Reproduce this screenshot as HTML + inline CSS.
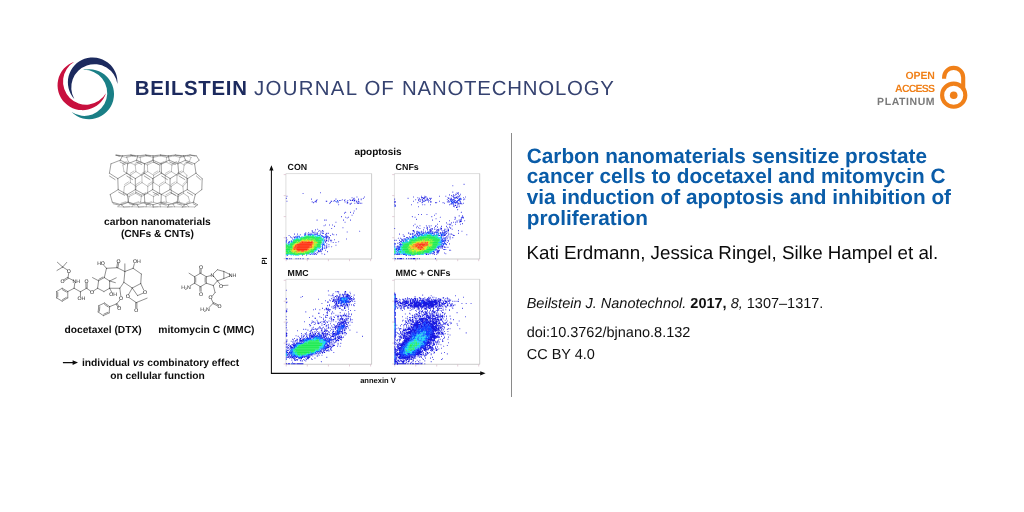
<!DOCTYPE html>
<html><head><meta charset="utf-8">
<style>
html,body{margin:0;padding:0;background:#fff;}
body{width:1024px;height:512px;position:relative;overflow:hidden;font-family:"Liberation Sans",sans-serif;text-rendering:geometricPrecision;}
.abs{position:absolute;white-space:nowrap;}
.jt{top:75.2px;font-size:20.4px;line-height:28px;color:#1c2a5e;}
.jl{color:#354270;}
.oa{right:88.8px;text-align:right;font-size:10.5px;line-height:13.2px;font-weight:bold;color:#f08019;}
#divider{left:511px;top:133px;width:1.3px;height:264px;background:#8a8a8a;}
#title{left:526.8px;top:146.6px;font-size:20.75px;line-height:20.75px;font-weight:bold;color:#0a5ca8;}
#auth{left:526.6px;top:241.55px;font-size:18.75px;line-height:22px;color:#0a0a0a;}
#cit{left:526.7px;top:294.8px;font-size:14.5px;line-height:18px;color:#111;}
#doi{left:526.7px;top:324px;font-size:14.5px;line-height:18px;color:#111;}
#cc{left:526.7px;top:345.5px;font-size:14.5px;line-height:18px;color:#111;}
#gfx{left:0;top:0;}
svg text{font-family:"Liberation Sans",sans-serif;}
</style></head><body>
<svg class="abs" id="gfx" width="1024" height="512" viewBox="0 0 1024 512">
<defs><clipPath id="figclip"><rect x="40" y="130" width="471" height="253.5"/></clipPath></defs>
<path d="M74.30 98.90A24.80 24.80 0 1 1 117.40 84.00A23.20 23.20 0 1 0 74.30 98.90Z" fill="#1c2a5e"/>
<path d="M74.30 61.70A24.90 24.90 0 1 0 106.00 93.30A23.10 23.10 0 1 1 74.30 61.70Z" fill="#c8103e"/>
<path d="M83.10 69.90A25.00 25.00 0 1 1 71.60 112.10A23.00 23.00 0 1 0 83.10 69.90Z" fill="#1a7f86"/>
<g fill="none" stroke="#f08019" stroke-width="4.1">
<circle cx="953.7" cy="95.2" r="11.6"/>
<path d="M944.1 78.8V77.4A9.55 9.55 0 0 1 963.2 77.4V89"/>
</g><circle cx="953.7" cy="95.2" r="3.8" fill="#f08019"/>
<g clip-path="url(#figclip)">
<g fill="none" stroke-linecap="round"><path d="M123.8 207.0L132.0 206.8M124.6 207.0L129.9 206.7M123.8 207.0L117.8 206.8M138.5 207.0L146.1 206.8M139.0 207.0L144.0 206.7M138.5 207.0L132.0 206.8M153.1 207.0L160.3 206.8M153.4 207.0L158.1 206.7M153.1 207.0L146.1 206.8M167.8 207.0L174.5 206.8M167.8 207.0L172.2 206.7M167.8 207.0L160.3 206.8M182.5 207.0L188.7 206.8M182.2 207.0L186.2 206.7M182.5 207.0L174.5 206.8M194.8 207.0L188.7 206.8M117.8 206.8L120.3 204.3M120.3 204.3L127.8 202.1M121.0 203.2L125.9 201.7M132.0 206.8L133.5 204.3M133.5 204.3L140.6 202.1M134.0 203.2L138.7 201.7M133.5 204.3L127.8 202.1M146.1 206.8L146.8 204.3M146.8 204.3L153.4 202.1M147.1 203.2L151.5 201.7M146.8 204.3L140.6 202.1M160.3 206.8L160.0 204.3M160.0 204.3L166.3 202.1M160.1 203.2L164.2 201.7M160.0 204.3L153.4 202.1M174.5 206.8L173.2 204.3M173.2 204.3L179.1 202.1M173.1 203.2L177.0 201.7M173.2 204.3L166.3 202.1M188.7 206.8L186.5 204.3M186.5 204.3L189.9 202.1M186.2 203.2L188.4 201.7M186.5 204.3L179.1 202.1M127.8 202.1L129.1 196.6M129.1 196.6L135.6 193.3M129.6 194.9L133.8 192.7M129.1 196.6L123.6 193.3M140.6 202.1L141.3 196.6M141.3 196.6L147.6 193.3M141.6 194.9L145.7 192.7M141.3 196.6L135.6 193.3M153.4 202.1L153.5 196.6M153.5 196.6L159.6 193.3M153.7 194.9L157.7 192.7M153.5 196.6L147.6 193.3M166.3 202.1L165.8 196.6M165.8 196.6L171.5 193.3M165.8 194.9L169.6 192.7M165.8 196.6L159.6 193.3M179.1 202.1L178.0 196.6M178.0 196.6L183.5 193.3M177.9 194.9L181.6 192.7M178.0 196.6L171.5 193.3M189.9 202.1L188.2 196.6M188.2 196.6L183.5 193.3M123.6 193.3L124.4 186.3M124.4 186.3L130.4 182.6M124.6 184.4L128.5 181.9M135.6 193.3L136.1 186.3M136.1 186.3L142.0 182.6M136.3 184.4L140.2 181.9M136.1 186.3L130.4 182.6M147.6 193.3L147.8 186.3M147.8 186.3L153.6 182.6M148.0 184.4L151.8 181.9M147.8 186.3L142.0 182.6M159.6 193.3L159.5 186.3M159.5 186.3L165.3 182.6M159.6 184.4L163.5 181.9M159.5 186.3L153.6 182.6M171.5 193.3L171.2 186.3M171.2 186.3L176.9 182.6M171.3 184.4L175.1 181.9M171.2 186.3L165.3 182.6M183.5 193.3L182.9 186.3M182.9 186.3L186.6 182.6M182.9 184.4L185.5 181.9M182.9 186.3L176.9 182.6M130.4 182.6L130.2 175.2M130.2 175.2L135.9 171.6M130.3 173.3L134.0 171.0M130.2 175.2L124.0 171.6M142.0 182.6L141.9 175.2M141.9 175.2L147.7 171.6M142.0 173.3L145.8 171.0M141.9 175.2L135.9 171.6M153.6 182.6L153.6 175.2M153.6 175.2L159.5 171.6M153.8 173.3L157.7 171.0M153.6 175.2L147.7 171.6M165.3 182.6L165.3 175.2M165.3 175.2L171.3 171.6M165.5 173.3L169.5 171.0M165.3 175.2L159.5 171.6M176.9 182.6L177.0 175.2M177.0 175.2L183.2 171.6M177.3 173.3L181.4 171.0M177.0 175.2L171.3 171.6M186.6 182.6L186.8 175.2M186.8 175.2L183.2 171.6M124.0 171.6L122.9 165.0M122.9 165.0L128.4 162.0M122.7 163.4L126.3 161.6M135.9 171.6L135.2 165.0M135.2 165.0L140.9 162.0M135.1 163.4L138.9 161.6M135.2 165.0L128.4 162.0M147.7 171.6L147.4 165.0M147.4 165.0L153.5 162.0M147.5 163.4L151.5 161.6M147.4 165.0L140.9 162.0M159.5 171.6L159.7 165.0M159.7 165.0L166.0 162.0M159.9 163.4L164.1 161.6M159.7 165.0L153.5 162.0M171.3 171.6L171.9 165.0M171.9 165.0L178.6 162.0M172.3 163.4L176.7 161.6M171.9 165.0L166.0 162.0M183.2 171.6L184.2 165.0M184.2 165.0L189.1 162.0M184.7 163.4L188.0 161.6M184.2 165.0L178.6 162.0M128.4 162.0L126.8 157.4M126.8 157.4L132.7 155.9M126.5 156.6L130.4 155.7M126.8 157.4L118.9 155.9M140.9 162.0L140.1 157.4M140.1 157.4L146.4 155.9M140.0 156.6L144.2 155.7M140.1 157.4L132.7 155.9M153.5 162.0L153.4 157.4M153.4 157.4L160.2 155.9M153.5 156.6L158.0 155.7M153.4 157.4L146.4 155.9M166.0 162.0L166.7 157.4M166.7 157.4L173.9 155.9M167.1 156.6L171.9 155.7M166.7 157.4L160.2 155.9M178.6 162.0L180.0 157.4M180.0 157.4L187.7 155.9M180.6 156.6L185.7 155.7M180.0 157.4L173.9 155.9M189.1 162.0L191.1 157.4M191.1 157.4L187.7 155.9M118.9 155.9L116.2 155.0M132.7 155.9L131.0 155.0M146.4 155.9L145.8 155.0M160.2 155.9L160.5 155.0M173.9 155.9L175.3 155.0M187.7 155.9L190.0 155.0" stroke="#777" stroke-width="0.45"/><path d="M122.5 155.8L120.3 160.2M120.3 160.2L127.7 163.8M120.0 162.0L125.0 164.5M120.3 160.2L111.0 163.8M137.8 155.8L136.6 160.2M136.6 160.2L144.5 163.8M136.6 162.0L141.8 164.5M136.6 160.2L127.7 163.8M153.0 155.8L152.9 160.2M152.9 160.2L161.2 163.8M153.1 162.0L158.6 164.5M152.9 160.2L144.5 163.8M168.3 155.8L169.2 160.2M169.2 160.2L177.9 163.8M169.6 162.0L175.4 164.5M169.2 160.2L161.2 163.8M183.6 155.8L185.5 160.2M185.5 160.2L194.6 163.8M186.1 162.0L192.2 164.5M185.5 160.2L177.9 163.8M196.4 155.8L199.1 160.2M199.1 160.2L194.6 163.8M111.0 163.8L109.4 173.2M109.4 173.2L117.8 178.6M109.5 176.0L115.1 179.6M127.7 163.8L126.7 173.2M126.7 173.2L135.3 178.6M126.9 176.0L132.5 179.6M126.7 173.2L117.8 178.6M144.5 163.8L144.1 173.2M144.1 173.2L152.7 178.6M144.3 176.0L150.0 179.6M144.1 173.2L135.3 178.6M161.2 163.8L161.4 173.2M161.4 173.2L170.1 178.6M161.7 176.0L167.4 179.6M161.4 173.2L152.7 178.6M177.9 163.8L178.7 173.2M178.7 173.2L187.6 178.6M179.0 176.0L184.9 179.6M178.7 173.2L170.1 178.6M194.6 163.8L196.0 173.2M196.0 173.2L202.2 178.6M196.4 176.0L200.4 179.6M196.0 173.2L187.6 178.6M117.8 178.6L118.2 189.6M118.2 189.6L127.2 194.5M118.7 192.2L124.7 195.3M118.2 189.6L110.2 194.5M135.3 178.6L135.4 189.6M135.4 189.6L144.3 194.5M135.8 192.2L141.6 195.3M135.4 189.6L127.2 194.5M152.7 178.6L152.7 189.6M152.7 189.6L161.3 194.5M153.0 192.2L158.6 195.3M152.7 189.6L144.3 194.5M170.1 178.6L170.0 189.6M170.0 189.6L178.3 194.5M170.2 192.2L175.6 195.3M170.0 189.6L161.3 194.5M187.6 178.6L187.3 189.6M187.3 189.6L195.3 194.5M187.3 192.2L192.6 195.3M187.3 189.6L178.3 194.5M202.2 178.6L201.8 189.6M201.8 189.6L195.3 194.5M110.2 194.5L112.3 202.2M112.3 202.2L121.5 204.8M113.2 203.7L119.3 205.1M127.2 194.5L128.6 202.2M128.6 202.2L137.2 204.8M129.2 203.7L134.9 205.1M128.6 202.2L121.5 204.8M144.3 194.5L144.8 202.2M144.8 202.2L153.0 204.8M145.2 203.7L150.6 205.1M144.8 202.2L137.2 204.8M161.3 194.5L161.0 202.2M161.0 202.2L168.7 204.8M161.1 203.7L166.2 205.1M161.0 202.2L153.0 204.8M178.3 194.5L177.2 202.2M177.2 202.2L184.4 204.8M177.1 203.7L181.8 205.1M177.2 202.2L168.7 204.8M195.3 194.5L193.5 202.2M193.5 202.2L197.6 204.8M193.1 203.7L195.8 205.1M193.5 202.2L184.4 204.8M121.5 204.8L123.8 207.0M137.2 204.8L138.5 207.0M153.0 204.8L153.1 207.0M168.7 204.8L167.8 207.0M184.4 204.8L182.5 207.0M197.6 204.8L194.8 207.0M116.2 155.0L122.5 155.8M115.7 155.3L119.9 156.1M131.0 155.0L137.8 155.8M130.7 155.3L135.3 156.1M131.0 155.0L122.5 155.8M145.8 155.0L153.0 155.8M145.8 155.3L150.6 156.1M145.8 155.0L137.8 155.8M160.5 155.0L168.3 155.8M160.8 155.3L166.0 156.1M160.5 155.0L153.0 155.8M175.3 155.0L183.6 155.8M175.9 155.3L181.4 156.1M175.3 155.0L168.3 155.8M190.0 155.0L196.4 155.8M190.9 155.3L195.1 156.1M190.0 155.0L183.6 155.8" stroke="#555" stroke-width="0.55"/></g>
<path d="M62.69 267.06L57.36 262.23M62.69 267.06L66.75 262.36M62.69 267.06L56.98 270.48M62.69 267.06L67.26 269.85M68.78 272.77L68.02 277.84M67.70 277.33L64.02 279.62M68.34 278.35L64.66 280.64M68.02 277.84L73.22 280.38M74.75 283.17L74.11 288.25M74.11 288.25L67.77 291.55M67.77 291.55L67.77 297.89M67.77 297.89L62.18 301.19M66.34 297.40L62.44 299.71M62.18 301.19L56.60 297.89M56.60 297.89L56.60 291.55M57.75 296.94L57.75 292.50M56.60 291.55L62.18 288.25M62.18 288.25L67.77 291.55M62.44 289.73L66.34 292.04M74.11 288.25L80.46 291.80M80.46 291.80L80.46 295.86M80.46 291.80L86.55 288.25M87.15 288.25L87.15 283.17M85.95 288.25L85.95 283.17M86.55 288.25L90.36 290.91M93.53 290.91L97.59 288.25M97.59 288.25L98.60 280.76M98.60 280.76L104.31 277.59M98.90 279.28L102.90 277.06M104.31 277.59L109.64 281.02M109.64 281.02L109.64 288.25M109.64 288.25L103.93 291.55M103.93 291.55L97.59 288.25M98.60 280.76L92.51 277.59M109.64 281.02L116.24 277.84M109.64 281.02L115.36 282.66M109.64 288.25L111.68 292.06M104.31 277.59L106.47 268.32M106.47 268.32L103.93 265.41M106.47 268.32L117.26 267.69M117.85 267.80L118.74 262.98M116.67 267.58L117.56 262.76M117.26 267.69L124.87 271.50M124.87 271.50L124.87 263.88M124.87 271.50L133.12 268.32M133.12 268.32L134.39 263.63M133.12 268.32L141.37 274.04M141.37 274.04L140.74 283.55M140.74 283.55L132.23 287.99M132.23 287.99L123.86 282.28M123.86 282.28L124.87 271.50M123.86 282.28L119.80 288.25M119.80 288.25L109.64 288.25M119.80 288.25L120.81 295.86M120.05 299.92L116.62 303.86M116.11 304.17L117.89 307.09M117.14 303.55L118.91 306.46M116.62 303.86L109.68 306.63M109.68 306.63L109.13 312.95M109.13 312.95L103.38 315.64M107.78 312.31L103.76 314.19M103.38 315.64L98.18 312.00M98.18 312.00L98.74 305.68M99.41 311.15L99.80 306.72M98.74 305.68L104.49 302.99M104.49 302.99L109.68 306.63M104.61 304.48L108.25 307.03M132.23 287.99L128.68 294.34M129.31 297.77L136.29 302.59M135.69 302.59L135.69 307.66M136.89 302.59L136.89 307.66M136.29 302.59L147.08 298.15M140.74 283.55L143.65 289.90M143.27 293.07L137.56 295.61M137.56 295.61L132.23 287.99" fill="none" stroke="#333" stroke-width="0.55" stroke-linecap="round"/><text x="68.78" y="272.73" font-size="5.2" text-anchor="middle" fill="#222">O</text><text x="62.44" y="283.27" font-size="5.2" text-anchor="middle" fill="#222">O</text><text x="76.27" y="283.14" font-size="5.2" text-anchor="middle" fill="#222">NH</text><text x="81.47" y="300.15" font-size="5.2" text-anchor="middle" fill="#222">OH</text><text x="86.55" y="283.27" font-size="5.2" text-anchor="middle" fill="#222">O</text><text x="92.01" y="293.67" font-size="5.2" text-anchor="middle" fill="#222">O</text><text x="113.20" y="296.09" font-size="5.2" text-anchor="middle" fill="#222">OH</text><text x="101.02" y="265.25" font-size="5.2" text-anchor="middle" fill="#222">HO</text><text x="118.53" y="262.71" font-size="5.2" text-anchor="middle" fill="#222">O</text><text x="136.80" y="263.34" font-size="5.2" text-anchor="middle" fill="#222">OH</text><text x="121.07" y="300.02" font-size="5.2" text-anchor="middle" fill="#222">O</text><text x="119.29" y="310.30" font-size="5.2" text-anchor="middle" fill="#222">O</text><text x="127.66" y="298.12" font-size="5.2" text-anchor="middle" fill="#222">O</text><text x="136.29" y="311.57" font-size="5.2" text-anchor="middle" fill="#222">O</text><text x="144.92" y="293.67" font-size="5.2" text-anchor="middle" fill="#222">O</text><path d="M200.43 273.23L206.29 276.75M206.29 276.75L206.29 283.20M205.14 277.72L205.14 282.23M206.29 283.20L200.43 286.71M200.43 286.71L194.57 283.20M194.57 283.20L194.57 276.75M195.72 282.23L195.72 277.72M194.57 276.75L200.43 273.23M201.03 273.25L201.15 269.27M199.83 273.22L199.95 269.23M199.83 286.73L199.95 291.30M201.03 286.70L201.15 291.27M194.57 276.75L189.06 273.23M194.57 283.20L190.70 285.42M206.29 276.75L210.74 275.58M213.67 276.28L217.42 280.85M217.42 280.85L213.32 285.54M213.32 285.54L206.29 283.20M213.56 273.47L217.42 269.72M217.42 269.72L223.87 271.48M223.87 271.48L223.87 278.51M223.87 278.51L217.42 280.85M223.87 271.48L230.08 274.52M223.87 278.51L230.08 275.93M217.42 280.85L219.89 284.02M222.81 285.54L227.97 285.19M213.32 285.54L215.08 292.57M215.08 292.57L212.27 296.09M211.33 299.02L213.32 303.12M213.06 303.66L217.40 305.77M213.58 302.58L217.92 304.69M213.32 303.12L209.34 307.22" fill="none" stroke="#333" stroke-width="0.55" stroke-linecap="round"/><text x="201.02" y="268.78" font-size="5.2" text-anchor="middle" fill="#222">O</text><text x="201.02" y="295.73" font-size="5.2" text-anchor="middle" fill="#222">O</text><text x="186.02" y="288.58" font-size="5.2" text-anchor="middle" fill="#222">H<tspan font-size="3.6" dy="1">2</tspan><tspan dy="-1">N</tspan></text><text x="212.38" y="276.75" font-size="5.2" text-anchor="middle" fill="#222">N</text><text x="232.42" y="277.22" font-size="5.2" text-anchor="middle" fill="#222">NH</text><text x="221.06" y="287.53" font-size="5.2" text-anchor="middle" fill="#222">O</text><text x="210.63" y="299.25" font-size="5.2" text-anchor="middle" fill="#222">O</text><text x="219.42" y="308.04" font-size="5.2" text-anchor="middle" fill="#222">O</text><text x="205.12" y="310.50" font-size="5.2" text-anchor="middle" fill="#222">H<tspan font-size="3.6" dy="1">2</tspan><tspan dy="-1">N</tspan></text>
<path d="M285.9 259.0V173.6H371.6" fill="none" stroke="#c8c8c8" stroke-width="0.6"/><path d="M371.6 173.6V259.0H285.9" fill="none" stroke="#a2a2a2" stroke-width="0.55"/>
<path d="M286.2 259.0v2.2M285.9 258.7h-2.2M307.3 259.0v2.2M285.9 237.7h-2.2M328.4 259.0v2.2M285.9 216.6h-2.2M349.5 259.0v2.2M285.9 195.6h-2.2M370.6 259.0v2.2M285.9 174.6h-2.2" stroke="#d8b8c8" stroke-width="0.7" fill="none"/>
<path d="M394.4 259.0V173.6H479.7" fill="none" stroke="#c8c8c8" stroke-width="0.6"/><path d="M479.7 173.6V259.0H394.4" fill="none" stroke="#a2a2a2" stroke-width="0.55"/>
<path d="M394.7 259.0v2.2M394.4 258.7h-2.2M415.7 259.0v2.2M394.4 237.7h-2.2M436.7 259.0v2.2M394.4 216.6h-2.2M457.7 259.0v2.2M394.4 195.6h-2.2M478.7 259.0v2.2M394.4 174.6h-2.2" stroke="#d8b8c8" stroke-width="0.7" fill="none"/>
<path d="M285.9 364.3V279.3H371.6" fill="none" stroke="#c8c8c8" stroke-width="0.6"/><path d="M371.6 279.3V364.3H285.9" fill="none" stroke="#a2a2a2" stroke-width="0.55"/>
<path d="M286.2 364.3v2.2M285.9 364.0h-2.2M307.3 364.3v2.2M285.9 343.1h-2.2M328.4 364.3v2.2M285.9 322.1h-2.2M349.5 364.3v2.2M285.9 301.2h-2.2M370.6 364.3v2.2M285.9 280.3h-2.2" stroke="#d8b8c8" stroke-width="0.7" fill="none"/>
<path d="M394.4 364.3V279.3H479.7" fill="none" stroke="#c8c8c8" stroke-width="0.6"/><path d="M479.7 279.3V364.3H394.4" fill="none" stroke="#a2a2a2" stroke-width="0.55"/>
<path d="M394.7 364.3v2.2M394.4 364.0h-2.2M415.7 364.3v2.2M394.4 343.1h-2.2M436.7 364.3v2.2M394.4 322.1h-2.2M457.7 364.3v2.2M394.4 301.2h-2.2M478.7 364.3v2.2M394.4 280.3h-2.2" stroke="#d8b8c8" stroke-width="0.7" fill="none"/>
<path d="M320.2 192.8h0.7M302.7 193.5h0.7M286.6 196.3h0.7M356.6 197.0h0.7M364.3 197.0h0.7M351.7 197.7h0.7M285.9 198.4h0.7M353.8 198.4h0.7M362.9 198.4h0.7M311.1 199.1h0.7M335.6 199.1h0.7M353.1 199.1h0.7M358.0 199.1h0.7M360.8 199.1h0.7M316.7 199.8h0.7M341.9 199.8h0.7M344.7 199.8h0.7M349.6 199.8h0.7M352.4 199.8h0.7M354.5 199.8h0.7M358.0 199.8h0.7M360.8 199.8h0.7M316.0 200.5h0.7M334.2 200.5h0.7M337.0 200.5h0.7M339.1 200.5h0.7M340.5 200.5h0.7M344.0 200.5h0.7M347.5 200.5h0.7M350.3 200.5h0.7M351.7 200.5h1.4M353.8 200.5h1.4M286.6 201.2h0.7M315.3 201.2h0.7M325.8 201.2h1.4M330.7 201.2h1.4M333.5 201.2h0.7M334.9 201.2h0.7M337.7 201.2h0.7M353.8 201.2h0.7M355.9 201.2h1.4M358.0 201.2h0.7M311.8 201.9h0.7M314.6 201.9h0.7M316.0 201.9h0.7M337.7 201.9h0.7M344.7 201.9h0.7M346.8 201.9h0.7M358.7 201.9h0.7M313.2 202.6h0.7M330.0 202.6h0.7M337.7 202.6h0.7M347.5 202.6h0.7M356.6 202.6h0.7M329.3 203.3h0.7M346.8 203.3h0.7M351.0 203.3h0.7M354.5 203.3h0.7M357.3 203.3h2.1M360.1 203.3h0.7M361.5 203.3h0.7M349.6 204.0h1.4M338.4 204.7h0.7M355.9 208.9h0.7M353.8 211.0h0.7M345.4 212.4h0.7M350.3 212.4h0.7M344.0 213.1h0.7M353.1 213.1h0.7M351.7 215.2h0.7M341.2 216.6h0.7M345.4 217.3h0.7M348.2 217.3h0.7M346.8 218.0h0.7M316.7 220.1h0.7M324.4 220.1h0.7M325.8 220.1h0.7M343.3 220.1h0.7M350.3 220.1h0.7M335.6 222.2h0.7M344.7 222.2h0.7M325.1 225.0h0.7M329.3 225.0h0.7M332.1 225.0h0.7M323.7 225.7h0.7M334.2 226.4h0.7M342.6 227.8h0.7M331.4 228.5h0.7M317.4 229.2h0.7M315.3 229.9h0.7M311.8 230.6h0.7M319.5 230.6h0.7M322.3 230.6h0.7M318.1 231.3h0.7M321.6 231.3h0.7M323.0 231.3h0.7M359.4 231.3h0.7M311.8 232.0h1.4M314.6 232.0h0.7M320.2 232.0h0.7M346.8 232.0h0.7M305.5 232.7h0.7M308.3 232.7h0.7M313.2 232.7h0.7M314.6 232.7h0.7M316.7 232.7h0.7M321.6 232.7h0.7M309.7 233.4h0.7M317.4 233.4h0.7M323.0 233.4h0.7M326.5 233.4h0.7M327.9 233.4h0.7M294.3 234.1h0.7M297.1 234.1h0.7M304.8 234.1h1.4M307.6 234.1h0.7M313.9 234.1h0.7M316.0 234.1h0.7M320.2 234.1h0.7M325.8 234.1h0.7M332.1 234.1h0.7M299.9 234.8h0.7M308.3 234.8h0.7M325.1 234.8h0.7M333.5 234.8h0.7M336.3 234.8h0.7M288.7 235.5h0.7M321.6 235.5h0.7M326.5 235.5h0.7M330.0 235.5h0.7M296.4 236.2h0.7M325.8 236.2h0.7M290.1 236.9h0.7M293.6 236.9h0.7M295.0 236.9h0.7M326.5 236.9h2.1M285.9 237.6h0.7M291.5 237.6h0.7M294.3 237.6h0.7M325.8 237.6h0.7M329.3 237.6h0.7M285.9 238.3h0.7M326.5 238.3h0.7M328.6 238.3h0.7M292.2 239.0h0.7M325.8 239.0h0.7M328.6 239.0h0.7M346.1 239.0h0.7M286.6 239.7h0.7M324.4 239.7h0.7M328.6 239.7h0.7M334.2 239.7h0.7M285.9 240.4h0.7M324.4 240.4h0.7M325.8 240.4h1.4M330.0 240.4h0.7M331.4 240.4h0.7M285.9 241.1h0.7M325.8 241.1h0.7M327.9 241.1h0.7M325.1 241.8h0.7M330.7 241.8h0.7M338.4 241.8h0.7M288.0 242.5h0.7M325.1 242.5h0.7M332.8 242.5h0.7M335.6 242.5h0.7M326.5 243.9h0.7M328.6 244.6h0.7M324.4 245.3h0.7M335.6 245.3h0.7M324.4 246.0h0.7M325.8 246.0h1.4M328.6 246.7h0.7M331.4 246.7h0.7M322.3 247.4h0.7M326.5 247.4h0.7M324.4 248.1h0.7M325.8 248.1h0.7M322.3 249.5h0.7M318.1 250.2h0.7M321.6 250.2h0.7M325.1 250.2h0.7M318.8 250.9h0.7M320.2 250.9h0.7M318.1 251.6h0.7M319.5 251.6h0.7M320.9 251.6h0.7M327.2 251.6h0.7M316.7 252.3h0.7M317.4 253.0h0.7M314.6 253.7h1.4M321.6 253.7h0.7M310.4 254.4h0.7M313.9 254.4h0.7M316.0 254.4h0.7M324.4 254.4h0.7M302.0 255.1h0.7M306.2 255.1h0.7M287.3 258.6h0.7M289.4 258.6h0.7M290.8 258.6h0.7M295.7 258.6h0.7M297.8 258.6h0.7M299.9 258.6h0.7M302.7 258.6h0.7M307.6 258.6h0.7" stroke="#1818e0" stroke-width="1.10" fill="none"/>
<path d="M336.3 201.9h0.7M322.3 233.4h0.7M304.1 234.1h0.7M311.1 234.1h1.4M315.3 234.1h0.7M309.0 234.8h2.1M314.6 234.8h0.7M316.7 234.8h1.4M304.1 235.5h0.7M309.7 235.5h0.7M318.1 235.5h0.7M320.9 235.5h0.7M297.1 236.2h1.4M299.2 236.2h0.7M321.6 236.2h1.4M325.1 236.2h0.7M297.8 236.9h0.7M299.2 236.9h0.7M321.6 236.9h0.7M323.0 236.9h1.4M325.1 236.9h0.7M295.7 237.6h0.7M297.1 237.6h0.7M324.4 237.6h0.7M294.3 239.0h0.7M290.8 241.1h1.4M285.9 241.8h0.7M288.7 241.8h1.4M323.7 241.8h0.7M285.9 242.5h0.7M289.4 242.5h0.7M322.3 243.2h0.7M288.0 243.9h0.7M321.6 244.6h0.7M323.0 244.6h1.4M322.3 245.3h0.7M322.3 246.0h0.7M322.3 246.7h0.7M322.3 248.1h0.7M323.7 248.1h0.7M321.6 248.8h1.4M320.2 249.5h0.7M321.6 249.5h0.7M320.2 250.2h0.7M318.1 250.9h0.7M313.9 252.3h0.7M311.1 253.7h0.7M313.2 253.7h0.7M309.7 254.4h0.7M312.5 254.4h0.7M286.6 255.1h1.4M285.9 258.6h1.4" stroke="#1040ff" stroke-width="1.10" fill="none"/>
<path d="M337.0 201.2h0.7M319.5 234.1h0.7M311.8 234.8h0.7M313.2 234.8h0.7M308.3 235.5h0.7M310.4 235.5h0.7M314.6 235.5h0.7M317.4 235.5h0.7M318.8 235.5h1.4M298.5 236.2h0.7M301.3 236.9h1.4M296.4 237.6h0.7M299.2 237.6h1.4M323.7 237.6h0.7M296.4 238.3h0.7M323.0 238.3h0.7M298.5 239.0h0.7M321.6 239.0h0.7M292.9 239.7h0.7M320.2 239.7h0.7M322.3 240.4h0.7M323.7 241.1h0.7M290.8 241.8h0.7M292.2 241.8h0.7M321.6 242.5h0.7M323.0 242.5h0.7M285.9 243.2h0.7M323.0 243.2h1.4M287.3 243.9h0.7M288.7 243.9h1.4M323.7 243.9h0.7M322.3 244.6h0.7M320.2 247.4h0.7M317.4 248.1h1.4M319.5 248.8h0.7M316.7 250.2h0.7M315.3 250.9h0.7M314.6 251.6h0.7M313.2 252.3h0.7M309.0 253.7h0.7M311.8 253.7h0.7M288.0 254.4h0.7M307.6 254.4h0.7M290.8 255.1h0.7M292.9 255.1h0.7M298.5 255.1h0.7" stroke="#0088ff" stroke-width="0.90" fill="none"/>
<path d="M312.5 234.8h0.7M304.8 235.5h1.4M307.6 235.5h0.7M311.8 235.5h2.1M305.5 236.2h0.7M309.0 236.2h1.4M311.1 236.2h0.7M313.9 236.2h0.7M315.3 236.2h2.8M320.2 236.2h0.7M303.4 236.9h0.7M304.8 236.9h0.7M313.9 236.9h0.7M316.0 236.9h4.9M300.6 237.6h0.7M302.0 237.6h0.7M315.3 237.6h0.7M320.2 237.6h1.4M297.1 238.3h1.4M299.9 238.3h0.7M320.9 238.3h0.7M295.0 239.0h2.1M297.8 239.0h0.7M299.2 239.0h0.7M319.5 239.0h1.4M322.3 239.0h1.4M293.6 239.7h2.1M299.2 239.7h0.7M318.8 239.7h1.4M320.9 239.7h0.7M323.0 239.7h0.7M292.9 240.4h1.4M321.6 240.4h0.7M323.0 240.4h0.7M321.6 241.1h2.1M323.0 241.8h0.7M290.8 242.5h2.1M290.1 243.2h0.7M320.9 243.9h0.7M286.6 244.6h0.7M288.7 244.6h1.4M320.2 244.6h0.7M288.0 245.3h1.4M320.2 245.3h0.7M289.4 246.0h1.4M320.2 246.7h1.4M317.4 247.4h1.4M319.5 247.4h0.7M316.7 248.1h0.7M318.8 248.1h1.4M316.0 248.8h1.4M316.0 249.5h1.4M314.6 250.2h2.1M288.0 250.9h0.7M313.9 250.9h1.4M288.0 251.6h0.7M311.1 252.3h0.7M309.0 253.0h0.7M311.1 253.0h1.4M288.7 253.7h0.7M304.8 253.7h0.7M285.9 254.4h2.1M289.4 254.4h4.2M298.5 254.4h0.7M300.6 254.4h1.4M306.2 254.4h0.7M293.6 255.1h0.7M295.0 255.1h3.5" stroke="#00dcec" stroke-width="0.90" fill="none"/>
<path d="M304.8 236.2h0.7M306.2 236.2h2.8M310.4 236.2h0.7M311.8 236.2h2.1M319.5 236.2h0.7M304.1 236.9h0.7M305.5 236.9h8.4M314.6 236.9h1.4M301.3 237.6h0.7M302.7 237.6h12.6M316.0 237.6h4.2M300.6 238.3h6.3M307.6 238.3h1.4M309.7 238.3h0.7M311.8 238.3h9.1M321.6 238.3h0.7M297.1 239.0h0.7M299.9 239.0h2.1M303.4 239.0h1.4M305.5 239.0h2.1M308.3 239.0h2.1M311.1 239.0h0.7M313.2 239.0h0.7M314.6 239.0h4.9M320.9 239.0h0.7M295.7 239.7h3.5M299.9 239.7h2.8M308.3 239.7h0.7M311.1 239.7h2.1M314.6 239.7h4.2M321.6 239.7h1.4M294.3 240.4h7.0M311.1 240.4h0.7M316.0 240.4h5.6M292.9 241.1h7.0M315.3 241.1h6.3M292.9 241.8h4.2M297.8 241.8h1.4M317.4 241.8h4.2M292.9 242.5h3.5M318.1 242.5h3.5M290.8 243.2h4.9M318.1 243.2h3.5M285.9 243.9h0.7M290.1 243.9h4.2M316.7 243.9h4.2M285.9 244.6h0.7M288.0 244.6h0.7M290.1 244.6h3.5M316.7 244.6h3.5M285.9 245.3h2.1M289.4 245.3h2.8M316.0 245.3h4.2M285.9 246.0h3.5M290.8 246.0h1.4M316.7 246.0h4.2M285.9 246.7h6.3M313.9 246.7h0.7M315.3 246.7h4.9M285.9 247.4h1.4M288.0 247.4h4.2M314.6 247.4h2.8M318.8 247.4h0.7M286.6 248.1h5.6M313.9 248.1h2.8M285.9 248.8h4.2M313.9 248.8h2.1M285.9 249.5h4.9M312.5 249.5h3.5M285.9 250.2h4.2M310.4 250.2h4.2M285.9 250.9h2.1M288.7 250.9h1.4M290.8 250.9h0.7M311.1 250.9h2.8M285.9 251.6h2.1M288.7 251.6h2.8M299.9 251.6h0.7M307.6 251.6h0.7M309.7 251.6h4.2M286.6 252.3h2.8M290.1 252.3h2.1M306.2 252.3h4.9M311.8 252.3h1.4M286.6 253.0h9.1M298.5 253.0h0.7M299.9 253.0h0.7M301.3 253.0h0.7M302.7 253.0h1.4M304.8 253.0h4.2M285.9 253.7h2.8M289.4 253.7h5.6M297.8 253.7h7.0M305.5 253.7h3.5M293.6 254.4h4.9M299.2 254.4h1.4M302.0 254.4h2.8" stroke="#10ea48" stroke-width="0.90" fill="none"/>
<path d="M306.9 238.3h0.7M309.0 238.3h0.7M310.4 238.3h1.4M302.0 239.0h1.4M304.8 239.0h0.7M307.6 239.0h0.7M310.4 239.0h0.7M311.8 239.0h1.4M313.9 239.0h0.7M302.7 239.7h3.5M306.9 239.7h1.4M309.0 239.7h2.1M313.2 239.7h1.4M301.3 240.4h0.7M304.1 240.4h1.4M309.0 240.4h0.7M310.4 240.4h0.7M313.2 240.4h2.8M299.9 241.1h0.7M306.2 241.1h0.7M310.4 241.1h0.7M312.5 241.1h0.7M313.9 241.1h0.7M299.2 241.8h1.4M313.9 241.8h3.5M296.4 242.5h2.1M299.2 242.5h0.7M313.9 242.5h0.7M316.7 242.5h1.4M296.4 243.2h2.1M314.6 243.2h0.7M316.0 243.2h0.7M317.4 243.2h0.7M294.3 243.9h0.7M313.9 243.9h2.8M293.6 244.6h0.7M313.9 244.6h0.7M315.3 244.6h1.4M292.2 245.3h1.4M313.9 245.3h0.7M315.3 245.3h0.7M292.2 246.0h1.4M313.9 246.0h2.1M292.2 246.7h0.7M314.6 246.7h0.7M287.3 247.4h0.7M292.2 247.4h1.4M313.2 247.4h1.4M285.9 248.1h0.7M292.2 248.1h0.7M312.5 248.1h0.7M290.1 248.8h2.8M310.4 248.8h1.4M312.5 248.8h1.4M290.8 249.5h1.4M310.4 249.5h2.1M290.1 250.2h2.1M295.0 250.2h0.7M308.3 250.2h2.1M290.1 250.9h0.7M293.6 250.9h0.7M307.6 250.9h3.5M292.2 251.6h0.7M294.3 251.6h2.1M304.1 251.6h3.5M308.3 251.6h1.4M285.9 252.3h0.7M289.4 252.3h0.7M292.2 252.3h0.7M293.6 252.3h2.1M296.4 252.3h0.7M300.6 252.3h0.7M303.4 252.3h0.7M304.8 252.3h1.4M285.9 253.0h0.7M295.7 253.0h2.8M299.2 253.0h0.7M300.6 253.0h0.7M302.0 253.0h0.7M304.1 253.0h0.7M295.0 253.7h2.8" stroke="#58f020" stroke-width="0.90" fill="none"/>
<path d="M306.2 239.7h0.7M302.0 240.4h2.1M305.5 240.4h2.1M309.7 240.4h0.7M311.8 240.4h1.4M302.0 241.1h0.7M304.1 241.1h1.4M308.3 241.1h0.7M309.7 241.1h0.7M313.2 241.1h0.7M314.6 241.1h0.7M297.1 241.8h0.7M313.2 241.8h0.7M313.2 242.5h0.7M314.6 242.5h0.7M295.7 243.2h0.7M298.5 243.2h0.7M313.9 243.2h0.7M315.3 243.2h0.7M316.7 243.2h0.7M295.0 243.9h0.7M296.4 243.9h0.7M312.5 243.9h0.7M295.0 244.6h0.7M314.6 244.6h0.7M293.6 245.3h1.4M312.5 245.3h1.4M314.6 245.3h0.7M293.6 246.0h0.7M313.2 246.0h0.7M316.0 246.0h0.7M311.8 247.4h1.4M310.4 248.1h2.1M313.2 248.1h0.7M309.7 248.8h0.7M311.8 248.8h0.7M292.2 249.5h1.4M307.6 249.5h0.7M309.0 249.5h0.7M293.6 250.2h0.7M296.4 250.2h0.7M292.9 250.9h0.7M294.3 250.9h1.4M304.1 250.9h1.4M306.2 250.9h1.4M292.9 251.6h0.7M297.8 251.6h0.7M299.2 251.6h0.7M300.6 251.6h0.7M302.7 251.6h0.7M292.9 252.3h0.7M295.7 252.3h0.7M298.5 252.3h2.1M302.0 252.3h1.4M304.1 252.3h0.7" stroke="#d8f000" stroke-width="0.90" fill="none"/>
<path d="M307.6 240.4h1.4M300.6 241.1h1.4M302.7 241.1h1.4M306.9 241.1h0.7M309.0 241.1h0.7M311.1 241.1h0.7M300.6 241.8h0.7M306.9 241.8h1.4M309.7 241.8h1.4M312.5 241.8h0.7M298.5 242.5h0.7M299.9 242.5h0.7M301.3 242.5h0.7M315.3 242.5h1.4M313.2 243.2h0.7M295.7 243.9h0.7M297.1 243.9h0.7M313.2 243.9h0.7M294.3 244.6h0.7M295.7 244.6h0.7M311.8 244.6h2.1M311.8 245.3h0.7M294.3 246.0h1.4M309.7 246.0h0.7M311.8 246.0h1.4M292.9 246.7h1.4M310.4 246.7h0.7M311.8 246.7h2.1M292.9 248.1h1.4M295.7 248.1h0.7M309.7 248.1h0.7M308.3 248.8h1.4M295.0 249.5h1.4M309.7 249.5h0.7M292.2 250.2h1.4M294.3 250.2h0.7M295.7 250.2h0.7M307.6 250.2h0.7M291.5 250.9h1.4M295.7 250.9h0.7M297.1 250.9h0.7M299.9 250.9h0.7M291.5 251.6h0.7M293.6 251.6h0.7M297.1 251.6h0.7M298.5 251.6h0.7M297.1 252.3h1.4M301.3 252.3h0.7" stroke="#ffb400" stroke-width="0.90" fill="none"/>
<path d="M305.5 241.1h0.7M307.6 241.1h0.7M311.8 241.1h0.7M303.4 241.8h2.1M306.2 241.8h0.7M303.4 242.5h0.7M304.8 242.5h1.4M312.5 242.5h0.7M299.2 243.2h0.7M310.4 243.2h0.7M311.8 243.2h0.7M297.8 243.9h1.4M296.4 245.3h0.7M297.1 246.0h0.7M311.1 246.0h0.7M294.3 246.7h0.7M296.4 246.7h0.7M309.7 246.7h0.7M293.6 247.4h1.4M295.7 247.4h0.7M309.7 247.4h1.4M308.3 248.1h1.4M292.9 248.8h1.4M295.0 248.8h0.7M306.9 248.8h1.4M293.6 249.5h1.4M308.3 249.5h0.7M304.8 250.2h0.7M306.9 250.2h0.7M296.4 250.9h0.7M300.6 250.9h1.4M305.5 250.9h0.7M296.4 251.6h0.7M301.3 251.6h1.4M303.4 251.6h0.7" stroke="#ff5c00" stroke-width="0.90" fill="none"/>
<path d="M301.3 241.8h2.1M305.5 241.8h0.7M308.3 241.8h1.4M311.1 241.8h1.4M300.6 242.5h0.7M302.0 242.5h1.4M304.1 242.5h0.7M306.2 242.5h6.3M299.9 243.2h10.5M311.1 243.2h0.7M312.5 243.2h0.7M299.2 243.9h13.3M296.4 244.6h15.4M295.0 245.3h1.4M297.1 245.3h14.7M295.7 246.0h1.4M297.8 246.0h11.9M310.4 246.0h0.7M295.0 246.7h1.4M297.1 246.7h12.6M311.1 246.7h0.7M295.0 247.4h0.7M296.4 247.4h13.3M311.1 247.4h0.7M294.3 248.1h1.4M296.4 248.1h11.9M294.3 248.8h0.7M295.7 248.8h11.2M296.4 249.5h11.2M297.1 250.2h7.7M305.5 250.2h1.4M297.8 250.9h2.1M302.0 250.9h2.1" stroke="#ff2400" stroke-width="0.90" fill="none"/>
<path d="M463.7 184.4h0.7M452.5 185.8h0.7M452.5 192.1h0.7M456.7 192.8h0.7M458.1 192.8h0.7M457.4 193.5h0.7M455.3 194.2h1.4M458.1 194.2h0.7M460.2 194.2h0.7M449.0 194.9h0.7M453.2 194.9h0.7M451.1 195.6h0.7M454.6 195.6h0.7M459.5 195.6h0.7M421.0 196.3h0.7M424.5 196.3h0.7M439.2 196.3h0.7M445.5 196.3h0.7M452.5 196.3h1.4M457.4 196.3h0.7M458.8 196.3h0.7M413.3 197.0h0.7M425.2 197.0h1.4M456.0 197.0h0.7M458.1 197.0h0.7M465.1 197.0h0.7M417.5 197.7h0.7M421.0 197.7h2.1M423.8 197.7h1.4M447.6 197.7h0.7M453.2 197.7h1.4M455.3 197.7h2.1M463.0 197.7h0.7M407.7 198.4h0.7M418.9 198.4h0.7M423.1 198.4h1.4M427.3 198.4h0.7M429.4 198.4h0.7M430.8 198.4h0.7M448.3 198.4h0.7M449.7 198.4h0.7M451.1 198.4h0.7M454.6 198.4h0.7M457.4 198.4h0.7M459.5 198.4h0.7M394.4 199.1h0.7M418.9 199.1h0.7M425.9 199.1h0.7M427.3 199.1h0.7M430.1 199.1h0.7M451.1 199.1h0.7M460.9 199.1h0.7M464.4 199.1h0.7M415.4 199.8h0.7M418.2 199.8h0.7M420.3 199.8h0.7M421.7 199.8h1.4M424.5 199.8h0.7M427.3 199.8h1.4M430.1 199.8h0.7M446.9 199.8h0.7M449.7 199.8h2.1M452.5 199.8h2.1M458.1 199.8h0.7M463.0 199.8h0.7M418.2 200.5h0.7M422.4 200.5h0.7M425.2 200.5h0.7M426.6 200.5h0.7M428.7 200.5h0.7M448.3 200.5h0.7M451.8 200.5h0.7M455.3 200.5h0.7M457.4 200.5h0.7M394.4 201.2h0.7M413.3 201.2h0.7M418.9 201.2h0.7M420.3 201.2h0.7M423.1 201.2h0.7M424.5 201.2h0.7M439.2 201.2h0.7M453.9 201.2h0.7M456.7 201.2h0.7M459.5 201.2h0.7M394.4 201.9h1.4M422.4 201.9h0.7M428.0 201.9h0.7M430.1 201.9h1.4M446.9 201.9h0.7M448.3 201.9h1.4M453.2 201.9h0.7M454.6 201.9h0.7M456.0 201.9h0.7M457.4 201.9h0.7M460.2 201.9h0.7M394.4 202.6h0.7M417.5 202.6h0.7M421.7 202.6h0.7M435.0 202.6h0.7M436.4 202.6h0.7M442.7 202.6h0.7M453.9 202.6h0.7M455.3 202.6h1.4M457.4 202.6h0.7M444.1 203.3h0.7M451.1 203.3h0.7M455.3 203.3h0.7M457.4 203.3h1.4M459.5 203.3h2.1M463.0 203.3h0.7M450.4 204.0h1.4M452.5 204.0h0.7M458.1 204.0h0.7M459.5 204.0h0.7M461.6 204.0h0.7M394.4 204.7h0.7M411.2 204.7h0.7M422.4 204.7h0.7M424.5 204.7h0.7M430.1 204.7h0.7M449.0 204.7h0.7M453.2 204.7h0.7M457.4 204.7h0.7M395.1 205.4h0.7M454.6 205.4h1.4M395.1 206.1h0.7M453.2 206.1h0.7M456.7 206.1h0.7M458.8 206.1h0.7M418.2 206.8h0.7M453.9 206.8h0.7M456.7 206.8h0.7M458.8 206.8h0.7M456.0 207.5h1.4M457.4 209.6h0.7M460.9 212.4h0.7M435.7 213.8h0.7M418.2 214.5h0.7M421.0 214.5h0.7M426.6 214.5h0.7M434.3 215.2h0.7M458.8 215.9h0.7M462.3 215.9h0.7M411.9 216.6h0.7M431.5 216.6h0.7M414.7 217.3h0.7M439.9 217.3h0.7M454.6 217.3h0.7M461.6 217.3h2.1M455.3 218.0h0.7M460.9 218.0h0.7M463.0 218.0h0.7M435.7 218.7h0.7M416.1 219.4h0.7M454.6 219.4h0.7M460.9 219.4h0.7M432.2 220.1h0.7M458.8 220.1h0.7M460.2 220.1h0.7M449.0 220.8h0.7M456.7 220.8h0.7M460.9 220.8h0.7M464.4 220.8h0.7M439.2 221.5h0.7M456.7 221.5h0.7M459.5 221.5h2.1M453.2 222.2h0.7M455.3 222.2h0.7M456.7 222.2h0.7M459.5 222.2h0.7M446.2 222.9h0.7M451.1 222.9h0.7M462.3 223.6h0.7M414.7 224.3h0.7M437.1 224.3h0.7M447.6 224.3h0.7M449.0 224.3h0.7M450.4 224.3h0.7M455.3 224.3h0.7M460.2 224.3h0.7M449.7 225.0h0.7M413.3 225.7h0.7M419.6 225.7h0.7M425.9 225.7h0.7M428.7 225.7h0.7M430.8 225.7h0.7M435.7 225.7h0.7M451.8 225.7h0.7M416.8 226.4h0.7M435.0 226.4h0.7M441.3 226.4h0.7M446.2 226.4h0.7M426.6 227.1h0.7M429.4 227.1h0.7M437.1 227.1h0.7M449.0 227.1h0.7M416.1 227.8h0.7M418.2 227.8h0.7M423.8 227.8h0.7M427.3 227.8h0.7M434.3 227.8h0.7M440.6 227.8h0.7M446.9 227.8h0.7M450.4 227.8h0.7M394.4 228.5h0.7M419.6 228.5h0.7M426.6 228.5h0.7M430.8 228.5h0.7M432.2 228.5h0.7M440.6 228.5h1.4M450.4 228.5h0.7M427.3 229.2h0.7M430.8 229.2h0.7M432.2 229.2h0.7M434.3 229.2h0.7M435.7 229.2h0.7M438.5 229.2h0.7M439.9 229.2h0.7M444.1 229.2h0.7M445.5 229.2h0.7M447.6 229.2h1.4M451.8 229.2h0.7M423.1 229.9h0.7M427.3 229.9h0.7M429.4 229.9h1.4M437.1 229.9h1.4M441.3 229.9h0.7M412.6 230.6h1.4M430.8 230.6h0.7M436.4 230.6h0.7M438.5 230.6h0.7M442.7 230.6h0.7M444.1 230.6h0.7M447.6 230.6h1.4M458.1 230.6h0.7M413.3 231.3h1.4M416.8 231.3h0.7M421.0 231.3h0.7M425.2 231.3h0.7M429.4 231.3h1.4M431.5 231.3h0.7M444.1 231.3h0.7M445.5 231.3h1.4M447.6 231.3h0.7M461.6 231.3h0.7M416.1 232.0h0.7M417.5 232.0h0.7M419.6 232.0h0.7M421.7 232.0h0.7M423.1 232.0h0.7M430.1 232.0h0.7M432.2 232.0h0.7M433.6 232.0h0.7M435.0 232.0h0.7M437.1 232.0h1.4M442.0 232.0h0.7M408.4 232.7h0.7M414.0 232.7h0.7M421.0 232.7h0.7M423.1 232.7h0.7M424.5 232.7h0.7M429.4 232.7h0.7M434.3 232.7h0.7M435.7 232.7h0.7M439.9 232.7h1.4M442.0 232.7h0.7M443.4 232.7h2.1M447.6 232.7h0.7M408.4 233.4h0.7M412.6 233.4h0.7M416.1 233.4h0.7M423.1 233.4h0.7M428.7 233.4h0.7M439.9 233.4h0.7M442.7 233.4h0.7M446.2 233.4h0.7M458.1 233.4h0.7M399.3 234.1h0.7M409.8 234.1h1.4M411.9 234.1h0.7M416.8 234.1h1.4M422.4 234.1h0.7M434.3 234.1h0.7M444.1 234.1h0.7M445.5 234.1h0.7M448.3 234.1h0.7M449.7 234.1h0.7M451.1 234.1h0.7M402.8 234.8h0.7M414.7 234.8h0.7M416.8 234.8h0.7M442.7 234.8h0.7M444.8 234.8h0.7M452.5 234.8h0.7M466.5 234.8h0.7M414.0 235.5h0.7M416.8 235.5h0.7M438.5 235.5h1.4M443.4 235.5h2.1M447.6 235.5h0.7M453.2 235.5h1.4M403.5 236.2h1.4M411.9 236.2h0.7M418.2 236.2h0.7M449.7 236.2h0.7M409.1 236.9h0.7M441.3 236.9h0.7M442.7 236.9h0.7M446.2 236.9h0.7M447.6 236.9h0.7M406.3 237.6h1.4M410.5 237.6h0.7M441.3 237.6h0.7M444.8 237.6h0.7M449.7 237.6h0.7M452.5 237.6h0.7M397.9 238.3h0.7M400.0 238.3h0.7M408.4 238.3h0.7M443.4 238.3h0.7M445.5 238.3h0.7M446.9 238.3h0.7M401.4 239.0h0.7M403.5 239.0h1.4M445.5 239.0h0.7M449.7 239.0h0.7M401.4 239.7h1.4M445.5 239.7h0.7M394.4 240.4h0.7M395.8 240.4h0.7M399.3 240.4h0.7M403.5 240.4h0.7M441.3 240.4h0.7M442.7 240.4h0.7M444.8 240.4h0.7M447.6 240.4h0.7M401.4 241.1h0.7M443.4 241.1h0.7M445.5 241.1h0.7M448.3 241.1h0.7M400.0 241.8h1.4M442.7 241.8h0.7M399.3 242.5h0.7M444.1 242.5h0.7M446.9 242.5h0.7M394.4 243.2h0.7M397.2 243.2h0.7M398.6 243.2h0.7M395.1 243.9h0.7M400.0 243.9h0.7M444.8 243.9h1.4M449.0 243.9h0.7M401.4 244.6h0.7M446.2 244.6h0.7M441.3 245.3h0.7M442.7 245.3h0.7M397.2 246.0h0.7M398.6 246.0h0.7M442.0 246.0h0.7M395.8 246.7h0.7M397.2 246.7h1.4M441.3 246.7h2.1M444.1 246.7h0.7M399.3 247.4h0.7M440.6 247.4h0.7M444.1 247.4h0.7M445.5 247.4h0.7M447.6 247.4h0.7M395.8 248.1h0.7M397.2 248.1h0.7M437.8 248.1h1.4M440.6 248.1h0.7M442.0 248.1h0.7M396.5 248.8h0.7M436.4 249.5h0.7M443.4 249.5h1.4M445.5 249.5h0.7M437.1 250.2h0.7M438.5 250.2h1.4M449.0 250.2h0.7M450.4 250.2h0.7M437.8 250.9h0.7M396.5 251.6h0.7M437.1 251.6h0.7M438.5 251.6h0.7M433.6 252.3h1.4M436.4 252.3h0.7M437.8 252.3h0.7M433.6 253.0h0.7M437.1 253.0h1.4M444.1 253.0h0.7M398.6 253.7h0.7M432.2 253.7h1.4M445.5 253.7h0.7M395.8 254.4h0.7M397.9 254.4h0.7M399.3 254.4h0.7M400.7 254.4h0.7M425.9 254.4h1.4M428.0 254.4h0.7M434.3 254.4h0.7M436.4 254.4h0.7M405.6 255.1h1.4M395.1 258.6h0.7M397.2 258.6h1.4M399.3 258.6h2.8M402.8 258.6h0.7M406.3 258.6h0.7M408.4 258.6h0.7M409.8 258.6h0.7M411.2 258.6h0.7M412.6 258.6h2.8M416.8 258.6h0.7M418.9 258.6h0.7M435.0 258.6h0.7" stroke="#1818e0" stroke-width="1.10" fill="none"/>
<path d="M454.6 197.7h0.7M460.2 198.4h0.7M458.8 199.1h1.4M451.8 199.8h0.7M458.8 199.8h2.1M450.4 200.5h0.7M453.9 200.5h0.7M458.1 200.5h1.4M423.8 201.2h0.7M450.4 201.2h2.1M453.2 201.2h0.7M451.1 201.9h1.4M451.8 202.6h1.4M456.7 202.6h0.7M452.5 203.3h1.4M394.4 206.1h0.7M461.6 218.0h0.7M418.2 232.0h0.7M427.3 232.0h2.1M435.7 232.0h1.4M444.8 232.0h1.4M417.5 232.7h2.8M425.2 232.7h0.7M426.6 232.7h1.4M428.7 232.7h0.7M430.8 232.7h0.7M432.2 232.7h0.7M436.4 232.7h1.4M417.5 233.4h0.7M419.6 233.4h0.7M422.4 233.4h0.7M425.9 233.4h0.7M428.0 233.4h0.7M430.1 233.4h0.7M431.5 233.4h2.1M438.5 233.4h0.7M412.6 234.1h0.7M418.9 234.1h1.4M421.7 234.1h0.7M425.9 234.1h0.7M432.9 234.1h0.7M436.4 234.1h0.7M440.6 234.1h2.1M443.4 234.1h0.7M412.6 234.8h0.7M415.4 234.8h0.7M420.3 234.8h1.4M437.8 234.8h0.7M440.6 234.8h1.4M415.4 235.5h0.7M418.2 235.5h1.4M421.0 235.5h0.7M437.8 235.5h0.7M440.6 235.5h2.1M412.6 236.2h1.4M415.4 236.2h1.4M419.6 236.2h0.7M411.9 236.9h1.4M416.1 236.9h0.7M440.6 236.9h0.7M411.9 237.6h0.7M413.3 237.6h0.7M407.7 238.3h0.7M409.8 238.3h0.7M412.6 238.3h0.7M441.3 238.3h0.7M444.1 238.3h0.7M404.9 239.0h1.4M407.7 239.0h1.4M409.8 239.0h0.7M442.0 239.0h1.4M444.1 239.0h0.7M404.9 239.7h0.7M441.3 239.7h1.4M402.1 240.4h0.7M404.9 240.4h0.7M444.1 240.4h0.7M403.5 241.1h0.7M404.9 241.1h0.7M407.0 241.1h0.7M442.0 241.1h1.4M444.1 241.1h0.7M402.8 241.8h1.4M404.9 241.8h0.7M441.3 241.8h1.4M444.1 241.8h0.7M441.3 242.5h0.7M441.3 243.2h1.4M444.1 243.2h1.4M394.4 243.9h0.7M400.7 243.9h0.7M442.7 243.9h1.4M394.4 244.6h0.7M399.3 244.6h2.1M442.7 244.6h1.4M394.4 246.0h0.7M400.0 246.0h0.7M438.5 246.0h0.7M440.6 246.0h0.7M399.3 246.7h0.7M437.8 246.7h0.7M439.2 246.7h1.4M397.9 247.4h0.7M437.1 247.4h0.7M438.5 247.4h0.7M398.6 248.1h1.4M397.9 248.8h1.4M435.7 248.8h0.7M395.8 249.5h1.4M397.9 249.5h2.8M435.0 249.5h0.7M396.5 250.2h2.1M435.0 250.2h0.7M397.9 250.9h0.7M436.4 250.9h0.7M397.9 251.6h0.7M432.9 251.6h1.4M397.2 253.0h0.7M425.9 253.0h0.7M427.3 253.0h0.7M430.8 253.0h1.4M395.1 253.7h0.7M397.2 253.7h0.7M404.2 253.7h0.7M425.2 253.7h1.4M429.4 253.7h1.4M394.4 254.4h0.7M396.5 254.4h1.4M402.8 254.4h2.1M408.4 255.1h0.7M409.8 255.1h1.4" stroke="#1040ff" stroke-width="1.10" fill="none"/>
<path d="M426.6 233.4h0.7M437.8 233.4h0.7M420.3 234.1h1.4M423.8 234.1h2.1M426.6 234.1h0.7M429.4 234.1h2.8M437.8 234.1h1.4M442.7 234.1h0.7M421.7 234.8h0.7M423.8 234.8h0.7M431.5 234.8h0.7M434.3 234.8h0.7M435.7 234.8h2.1M442.0 234.8h0.7M421.7 235.5h2.1M432.2 235.5h2.1M433.6 236.2h0.7M414.0 236.9h0.7M417.5 236.9h1.4M437.8 236.9h0.7M416.8 237.6h0.7M438.5 237.6h0.7M411.2 238.3h0.7M440.6 238.3h0.7M406.3 239.7h1.4M439.9 239.7h0.7M405.6 240.4h1.4M406.3 241.1h0.7M439.9 241.1h2.1M406.3 241.8h0.7M439.9 241.8h0.7M401.4 242.5h0.7M405.6 242.5h0.7M439.2 242.5h2.1M438.5 243.2h0.7M402.1 243.9h0.7M440.6 243.9h0.7M444.1 243.9h0.7M402.1 244.6h0.7M440.6 244.6h1.4M400.0 245.3h0.7M402.1 245.3h0.7M438.5 245.3h0.7M439.9 245.3h0.7M400.7 246.0h1.4M439.2 246.0h0.7M394.4 246.7h0.7M400.0 246.7h0.7M437.1 246.7h0.7M394.4 247.4h0.7M400.0 247.4h0.7M400.0 248.1h0.7M395.1 249.5h0.7M434.3 249.5h0.7M395.1 250.2h0.7M398.6 250.2h0.7M400.0 250.2h1.4M434.3 250.2h0.7M398.6 250.9h0.7M432.9 250.9h0.7M395.8 251.6h0.7M398.6 251.6h0.7M402.1 251.6h0.7M404.2 251.6h0.7M432.2 251.6h0.7M397.2 252.3h0.7M398.6 252.3h0.7M429.4 252.3h1.4M396.5 253.0h0.7M398.6 253.0h1.4M402.8 253.0h1.4M424.5 253.0h0.7M426.6 253.0h0.7M428.0 253.0h0.7M399.3 253.7h0.7M402.1 253.7h0.7M403.5 253.7h0.7M404.9 253.7h1.4M423.8 253.7h0.7M404.9 254.4h1.4M410.5 254.4h0.7M416.8 254.4h1.4M421.0 254.4h0.7M409.1 255.1h0.7M411.9 255.1h2.8M394.4 258.6h0.7" stroke="#0088ff" stroke-width="0.90" fill="none"/>
<path d="M427.3 234.1h0.7M422.4 234.8h0.7M424.5 234.8h4.2M429.4 234.8h2.1M423.8 235.5h2.8M430.8 235.5h1.4M434.3 235.5h2.1M437.1 235.5h0.7M414.7 236.2h0.7M420.3 236.2h0.7M421.7 236.2h1.4M423.8 236.2h0.7M425.2 236.2h1.4M431.5 236.2h1.4M435.7 236.2h2.1M414.7 236.9h1.4M419.6 236.9h0.7M421.7 236.9h0.7M434.3 236.9h2.1M437.1 236.9h0.7M439.9 236.9h0.7M414.0 237.6h2.8M435.7 237.6h1.4M437.8 237.6h0.7M439.2 237.6h2.1M411.9 238.3h0.7M414.0 238.3h3.5M437.1 238.3h3.5M407.0 239.0h0.7M410.5 239.0h3.5M439.2 239.0h1.4M409.1 239.7h0.7M413.3 239.7h1.4M409.1 240.4h1.4M439.2 240.4h1.4M405.6 241.1h0.7M409.1 241.1h0.7M405.6 241.8h0.7M407.0 241.8h2.1M438.5 241.8h1.4M440.6 241.8h0.7M402.1 242.5h3.5M406.3 242.5h1.4M408.4 242.5h0.7M437.8 242.5h1.4M402.8 243.2h0.7M404.2 243.2h1.4M439.2 243.2h1.4M402.8 243.9h0.7M406.3 243.9h0.7M438.5 243.9h0.7M439.9 243.9h0.7M402.8 244.6h1.4M437.1 244.6h0.7M438.5 244.6h1.4M437.8 245.3h0.7M439.2 245.3h0.7M402.1 246.0h0.7M436.4 246.0h2.1M400.7 246.7h2.1M436.4 246.7h0.7M400.7 247.4h0.7M436.4 247.4h0.7M394.4 248.1h0.7M400.7 248.1h1.4M402.8 248.1h0.7M435.7 248.1h0.7M394.4 248.8h1.4M400.7 248.8h2.1M433.6 248.8h0.7M435.0 248.8h0.7M400.7 249.5h0.7M402.1 249.5h0.7M394.4 250.2h0.7M401.4 250.2h0.7M432.2 250.2h0.7M433.6 250.2h0.7M395.1 250.9h0.7M399.3 250.9h4.2M404.2 250.9h1.4M431.5 250.9h1.4M395.1 251.6h0.7M401.4 251.6h0.7M402.8 251.6h1.4M429.4 251.6h2.8M395.1 252.3h0.7M397.9 252.3h0.7M399.3 252.3h0.7M400.7 252.3h2.1M403.5 252.3h1.4M424.5 252.3h0.7M430.8 252.3h0.7M395.1 253.0h1.4M400.0 253.0h2.8M404.2 253.0h0.7M405.6 253.0h0.7M425.2 253.0h0.7M428.7 253.0h2.1M394.4 253.7h0.7M400.7 253.7h0.7M402.8 253.7h0.7M406.3 253.7h2.1M421.0 253.7h0.7M423.1 253.7h0.7M407.0 254.4h3.5M416.1 254.4h0.7M420.3 254.4h0.7M421.7 254.4h2.1" stroke="#00dcec" stroke-width="0.90" fill="none"/>
<path d="M428.7 234.8h0.7M426.6 235.5h4.2M436.4 235.5h0.7M421.0 236.2h0.7M423.1 236.2h0.7M424.5 236.2h0.7M426.6 236.2h4.9M432.9 236.2h0.7M434.3 236.2h1.4M418.9 236.9h0.7M420.3 236.9h1.4M422.4 236.9h11.9M436.4 236.9h0.7M417.5 237.6h18.2M437.1 237.6h0.7M413.3 238.3h0.7M417.5 238.3h8.4M428.7 238.3h8.4M414.0 239.0h9.8M425.9 239.0h0.7M428.0 239.0h2.1M430.8 239.0h8.4M409.8 239.7h3.5M414.7 239.7h2.1M417.5 239.7h1.4M419.6 239.7h2.8M425.2 239.7h0.7M428.0 239.7h1.4M432.9 239.7h7.0M410.5 240.4h8.4M429.4 240.4h0.7M431.5 240.4h7.7M409.8 241.1h5.6M416.1 241.1h0.7M430.8 241.1h0.7M432.9 241.1h0.7M434.3 241.1h5.6M409.1 241.8h2.8M413.3 241.8h1.4M415.4 241.8h0.7M433.6 241.8h4.9M407.7 242.5h0.7M409.1 242.5h2.8M414.0 242.5h0.7M432.2 242.5h5.6M402.1 243.2h0.7M403.5 243.2h0.7M405.6 243.2h5.6M412.6 243.2h0.7M431.5 243.2h7.0M403.5 243.9h2.8M407.0 243.9h4.9M432.9 243.9h5.6M439.2 243.9h0.7M404.2 244.6h4.9M409.8 244.6h0.7M432.9 244.6h4.2M437.8 244.6h0.7M439.9 244.6h0.7M402.8 245.3h6.3M432.2 245.3h5.6M402.8 246.0h6.3M431.5 246.0h4.9M402.8 246.7h5.6M430.1 246.7h0.7M432.2 246.7h4.2M401.4 247.4h6.3M428.7 247.4h1.4M430.8 247.4h5.6M402.1 248.1h0.7M403.5 248.1h4.9M428.7 248.1h2.8M432.2 248.1h3.5M402.8 248.8h5.6M428.0 248.8h5.6M434.3 248.8h0.7M394.4 249.5h0.7M401.4 249.5h0.7M402.8 249.5h5.6M409.1 249.5h0.7M426.6 249.5h7.7M402.1 250.2h7.0M423.8 250.2h8.4M432.9 250.2h0.7M394.4 250.9h0.7M403.5 250.9h0.7M405.6 250.9h4.9M411.2 250.9h0.7M423.1 250.9h8.4M394.4 251.6h0.7M399.3 251.6h2.1M404.9 251.6h4.2M410.5 251.6h0.7M414.7 251.6h0.7M417.5 251.6h0.7M421.0 251.6h0.7M422.4 251.6h7.0M394.4 252.3h0.7M400.0 252.3h0.7M402.8 252.3h0.7M404.9 252.3h7.7M414.0 252.3h0.7M415.4 252.3h0.7M416.8 252.3h4.2M421.7 252.3h2.8M425.2 252.3h4.2M394.4 253.0h0.7M404.9 253.0h0.7M406.3 253.0h6.3M414.0 253.0h2.1M416.8 253.0h7.7M408.4 253.7h4.2M413.3 253.7h7.7M421.7 253.7h1.4M411.2 254.4h4.9M418.2 254.4h2.1" stroke="#10ea48" stroke-width="0.90" fill="none"/>
<path d="M425.9 238.3h2.8M423.8 239.0h2.1M426.6 239.0h1.4M430.1 239.0h0.7M416.8 239.7h0.7M418.9 239.7h0.7M422.4 239.7h2.8M425.9 239.7h2.1M430.1 239.7h2.8M418.9 240.4h3.5M423.1 240.4h0.7M424.5 240.4h4.9M430.1 240.4h1.4M415.4 241.1h0.7M416.8 241.1h3.5M421.0 241.1h2.8M425.2 241.1h1.4M427.3 241.1h3.5M432.2 241.1h0.7M433.6 241.1h0.7M411.9 241.8h1.4M414.7 241.8h0.7M416.1 241.8h0.7M417.5 241.8h0.7M418.9 241.8h0.7M420.3 241.8h0.7M425.2 241.8h0.7M430.1 241.8h3.5M411.9 242.5h2.1M414.7 242.5h1.4M422.4 242.5h0.7M429.4 242.5h2.8M411.2 243.2h1.4M413.3 243.2h1.4M428.7 243.2h2.8M411.9 243.9h1.4M428.0 243.9h0.7M429.4 243.9h3.5M409.1 244.6h0.7M410.5 244.6h1.4M428.0 244.6h0.7M430.1 244.6h0.7M431.5 244.6h1.4M411.2 245.3h2.1M428.0 245.3h0.7M431.5 245.3h0.7M409.1 246.0h0.7M425.9 246.0h2.8M430.1 246.0h1.4M408.4 246.7h1.4M410.5 246.7h0.7M427.3 246.7h2.8M430.8 246.7h1.4M407.7 247.4h2.8M415.4 247.4h0.7M426.6 247.4h2.1M430.1 247.4h0.7M408.4 248.1h2.1M426.6 248.1h2.1M431.5 248.1h0.7M408.4 248.8h0.7M409.8 248.8h1.4M414.0 248.8h0.7M416.8 248.8h0.7M425.9 248.8h2.1M408.4 249.5h0.7M409.8 249.5h0.7M411.2 249.5h2.8M417.5 249.5h1.4M424.5 249.5h0.7M425.9 249.5h0.7M409.1 250.2h2.8M413.3 250.2h1.4M415.4 250.2h0.7M421.7 250.2h1.4M410.5 250.9h0.7M414.0 250.9h2.8M418.9 250.9h4.2M409.1 251.6h1.4M411.2 251.6h3.5M415.4 251.6h0.7M416.8 251.6h0.7M418.2 251.6h2.8M421.7 251.6h0.7M412.6 252.3h1.4M414.7 252.3h0.7M416.1 252.3h0.7M421.0 252.3h0.7M412.6 253.0h1.4M416.1 253.0h0.7M412.6 253.7h0.7" stroke="#58f020" stroke-width="0.90" fill="none"/>
<path d="M429.4 239.7h0.7M422.4 240.4h0.7M420.3 241.1h0.7M424.5 241.1h0.7M431.5 241.1h0.7M416.8 241.8h0.7M418.2 241.8h0.7M419.6 241.8h0.7M421.7 241.8h0.7M423.1 241.8h0.7M424.5 241.8h0.7M425.9 241.8h0.7M428.0 241.8h2.1M416.1 242.5h1.4M418.2 242.5h0.7M419.6 242.5h1.4M423.1 242.5h1.4M428.0 242.5h1.4M414.7 243.2h0.7M416.1 243.2h0.7M420.3 243.2h0.7M423.8 243.2h0.7M413.3 243.9h0.7M414.7 243.9h0.7M428.7 243.9h0.7M411.9 244.6h1.4M425.2 244.6h0.7M429.4 244.6h0.7M430.8 244.6h0.7M409.1 245.3h2.1M413.3 245.3h0.7M418.2 245.3h0.7M421.0 245.3h0.7M429.4 245.3h0.7M430.8 245.3h0.7M409.8 246.0h1.4M411.9 246.0h0.7M421.7 246.0h0.7M428.7 246.0h0.7M411.9 246.7h0.7M413.3 246.7h0.7M422.4 246.7h0.7M426.6 246.7h0.7M410.5 247.4h2.1M413.3 247.4h0.7M416.1 247.4h0.7M423.8 247.4h2.8M414.7 248.1h0.7M416.1 248.1h0.7M423.1 248.1h3.5M409.1 248.8h0.7M411.2 248.8h1.4M413.3 248.8h0.7M418.9 248.8h0.7M424.5 248.8h1.4M414.0 249.5h0.7M415.4 249.5h2.1M421.0 249.5h0.7M422.4 249.5h2.1M425.2 249.5h0.7M411.9 250.2h1.4M414.7 250.2h0.7M416.1 250.2h0.7M417.5 250.2h4.2M411.9 250.9h2.1M416.8 250.9h0.7M418.2 250.9h0.7M416.1 251.6h0.7" stroke="#d8f000" stroke-width="0.90" fill="none"/>
<path d="M423.8 240.4h0.7M426.6 241.1h0.7M421.0 241.8h0.7M422.4 241.8h0.7M423.8 241.8h0.7M426.6 241.8h1.4M417.5 242.5h0.7M418.9 242.5h0.7M421.0 242.5h0.7M425.9 242.5h0.7M415.4 243.2h0.7M419.6 243.2h0.7M425.2 243.2h0.7M428.0 243.2h0.7M414.0 243.9h0.7M418.9 243.9h0.7M423.1 243.9h0.7M427.3 243.9h0.7M414.7 244.6h0.7M416.1 244.6h0.7M417.5 244.6h0.7M428.7 244.6h0.7M414.0 245.3h2.1M428.7 245.3h0.7M430.1 245.3h0.7M411.2 246.0h0.7M414.0 246.0h0.7M417.5 246.0h0.7M419.6 246.0h0.7M425.2 246.0h0.7M429.4 246.0h0.7M409.8 246.7h0.7M411.2 246.7h0.7M414.0 246.7h2.1M417.5 246.7h0.7M423.1 246.7h3.5M412.6 247.4h0.7M414.0 247.4h0.7M423.1 247.4h0.7M411.2 248.1h2.1M414.0 248.1h0.7M415.4 248.1h0.7M416.8 248.1h0.7M421.7 248.1h0.7M412.6 248.8h0.7M414.7 248.8h2.1M421.7 248.8h1.4M410.5 249.5h0.7M414.7 249.5h0.7M418.9 249.5h0.7M416.8 250.2h0.7M423.1 250.2h0.7M417.5 250.9h0.7" stroke="#ffb400" stroke-width="0.90" fill="none"/>
<path d="M423.8 241.1h0.7M424.5 242.5h0.7M426.6 242.5h0.7M416.8 243.2h1.4M418.9 243.2h0.7M421.7 243.2h1.4M426.6 243.2h0.7M415.4 243.9h1.4M417.5 243.9h1.4M421.7 243.9h0.7M423.8 243.9h0.7M426.6 243.9h0.7M413.3 244.6h1.4M426.6 244.6h1.4M424.5 245.3h0.7M425.9 245.3h0.7M427.3 245.3h0.7M412.6 246.0h1.4M416.8 246.0h0.7M420.3 246.0h0.7M424.5 246.0h0.7M419.6 246.7h0.7M414.7 247.4h0.7M416.8 247.4h0.7M419.6 247.4h0.7M410.5 248.1h0.7M413.3 248.1h0.7M417.5 248.1h0.7M420.3 248.1h1.4M417.5 248.8h1.4M419.6 248.8h0.7M423.8 248.8h0.7M421.7 249.5h0.7" stroke="#ff5c00" stroke-width="0.90" fill="none"/>
<path d="M421.7 242.5h0.7M425.2 242.5h0.7M427.3 242.5h0.7M418.2 243.2h0.7M421.0 243.2h0.7M423.1 243.2h0.7M424.5 243.2h0.7M425.9 243.2h0.7M427.3 243.2h0.7M416.8 243.9h0.7M419.6 243.9h2.1M422.4 243.9h0.7M424.5 243.9h2.1M415.4 244.6h0.7M416.8 244.6h0.7M418.2 244.6h7.0M425.9 244.6h0.7M416.1 245.3h2.1M418.9 245.3h2.1M421.7 245.3h2.8M425.2 245.3h0.7M426.6 245.3h0.7M414.7 246.0h2.1M418.2 246.0h1.4M421.0 246.0h0.7M422.4 246.0h2.1M412.6 246.7h0.7M416.1 246.7h1.4M418.2 246.7h1.4M420.3 246.7h2.1M417.5 247.4h2.1M420.3 247.4h2.8M418.2 248.1h2.1M422.4 248.1h0.7M420.3 248.8h1.4M423.1 248.8h0.7M419.6 249.5h1.4" stroke="#ff2400" stroke-width="0.90" fill="none"/>
<path d="M285.9 290.2h0.7M327.9 290.9h0.7M335.6 291.6h0.7M337.0 291.6h0.7M338.4 291.6h0.7M344.7 291.6h1.4M349.6 292.3h0.7M338.4 293.0h0.7M344.0 293.0h0.7M345.4 293.0h0.7M332.8 293.7h0.7M350.3 293.7h0.7M339.8 294.4h0.7M341.9 294.4h0.7M344.0 294.4h0.7M345.4 294.4h0.7M346.8 294.4h1.4M328.6 295.1h0.7M332.1 295.1h0.7M339.1 295.1h0.7M342.6 295.1h1.4M346.1 295.1h1.4M348.2 295.1h0.7M353.8 295.1h0.7M330.7 295.8h0.7M332.8 295.8h0.7M336.3 295.8h1.4M340.5 295.8h0.7M342.6 295.8h0.7M344.7 295.8h0.7M346.8 295.8h3.5M302.0 296.5h0.7M334.9 296.5h1.4M337.7 296.5h0.7M339.1 296.5h0.7M343.3 296.5h0.7M344.7 296.5h0.7M346.1 296.5h2.1M348.9 296.5h0.7M351.0 296.5h0.7M300.6 297.2h0.7M332.8 297.2h0.7M337.7 297.2h1.4M340.5 297.2h0.7M342.6 297.2h0.7M345.4 297.2h1.4M348.2 297.2h0.7M350.3 297.2h0.7M353.1 297.2h0.7M334.2 297.9h0.7M336.3 297.9h0.7M338.4 297.9h1.4M346.8 297.9h0.7M349.6 297.9h1.4M285.9 298.6h0.7M331.4 298.6h0.7M337.7 298.6h0.7M348.9 298.6h0.7M351.0 298.6h1.4M353.8 298.6h0.7M285.9 299.3h0.7M318.1 299.3h0.7M332.8 299.3h1.4M335.6 299.3h0.7M337.0 299.3h2.1M339.8 299.3h0.7M348.9 299.3h2.1M353.1 299.3h1.4M329.3 300.0h0.7M333.5 300.0h2.1M336.3 300.0h0.7M338.4 300.0h1.4M348.9 300.0h0.7M351.0 300.0h0.7M352.4 300.0h0.7M325.1 300.7h0.7M330.0 300.7h0.7M332.8 300.7h1.4M334.9 300.7h0.7M337.0 300.7h0.7M346.1 300.7h0.7M347.5 300.7h0.7M351.0 300.7h0.7M332.1 301.4h1.4M334.9 301.4h0.7M336.3 301.4h0.7M341.9 301.4h0.7M349.6 301.4h1.4M352.4 301.4h0.7M354.5 301.4h0.7M286.6 302.1h0.7M327.2 302.1h1.4M334.2 302.1h0.7M335.6 302.1h1.4M338.4 302.1h0.7M348.2 302.1h1.4M285.9 302.8h0.7M334.2 302.8h0.7M336.3 302.8h0.7M339.1 302.8h0.7M342.6 302.8h0.7M346.1 302.8h0.7M348.2 302.8h0.7M349.6 302.8h0.7M321.6 303.5h0.7M335.6 303.5h1.4M337.7 303.5h1.4M339.8 303.5h0.7M344.0 303.5h0.7M346.1 303.5h0.7M354.5 303.5h0.7M334.9 304.2h1.4M342.6 304.2h2.1M346.1 304.2h2.1M348.9 304.2h0.7M329.3 304.9h0.7M336.3 304.9h1.4M340.5 304.9h0.7M343.3 304.9h1.4M346.8 304.9h0.7M348.9 304.9h0.7M351.0 304.9h0.7M353.1 304.9h0.7M327.2 305.6h0.7M329.3 305.6h0.7M334.2 305.6h0.7M335.6 305.6h0.7M337.7 305.6h0.7M339.8 305.6h0.7M341.2 305.6h1.4M345.4 305.6h0.7M346.8 305.6h1.4M353.8 305.6h0.7M332.8 306.3h0.7M334.9 306.3h1.4M337.0 306.3h2.1M339.8 306.3h0.7M341.9 306.3h1.4M344.7 306.3h0.7M331.4 307.0h0.7M332.8 307.0h0.7M344.0 307.0h0.7M346.8 307.0h0.7M348.2 307.0h0.7M334.2 307.7h2.1M337.7 307.7h0.7M344.0 307.7h1.4M322.3 308.4h0.7M325.8 308.4h1.4M327.9 308.4h0.7M332.8 308.4h0.7M339.1 308.4h1.4M344.0 308.4h1.4M286.6 309.1h0.7M315.3 309.1h0.7M325.8 309.1h0.7M327.9 309.1h0.7M334.9 309.1h0.7M348.2 309.1h0.7M313.2 309.8h0.7M319.5 309.8h0.7M324.4 309.8h0.7M326.5 309.8h1.4M328.6 309.8h2.1M341.2 309.8h0.7M342.6 309.8h0.7M285.9 310.5h0.7M327.9 310.5h0.7M342.6 310.5h0.7M345.4 310.5h0.7M350.3 310.5h0.7M354.5 310.5h0.7M285.9 311.2h1.4M329.3 311.2h0.7M285.9 311.9h0.7M305.5 311.9h0.7M327.2 311.9h0.7M332.1 311.9h0.7M348.2 311.9h0.7M326.5 312.6h0.7M339.8 312.6h0.7M318.1 313.2h1.4M327.2 313.2h0.7M331.4 313.2h0.7M333.5 313.2h0.7M344.0 313.2h0.7M331.4 314.0h0.7M346.1 314.0h0.7M348.2 314.0h1.4M351.0 314.0h0.7M323.0 314.7h0.7M344.0 314.7h0.7M351.0 314.7h0.7M326.5 315.4h1.4M335.6 315.4h0.7M337.7 315.4h0.7M339.8 315.4h0.7M342.6 315.4h1.4M344.7 315.4h1.4M312.5 316.1h0.7M325.1 316.1h0.7M340.5 316.1h1.4M342.6 316.1h0.7M346.1 316.1h0.7M347.5 316.1h1.4M285.9 316.8h0.7M319.5 316.8h0.7M330.7 316.8h0.7M333.5 316.8h0.7M337.0 316.8h2.1M344.7 316.8h0.7M346.1 316.8h0.7M348.9 316.8h0.7M350.3 316.8h0.7M309.0 317.5h0.7M320.9 317.5h0.7M325.1 317.5h0.7M326.5 317.5h0.7M330.7 317.5h0.7M334.2 317.5h0.7M341.2 317.5h0.7M314.6 318.2h1.4M323.0 318.2h0.7M329.3 318.2h0.7M337.7 318.2h0.7M342.6 318.2h0.7M347.5 318.2h1.4M330.7 318.9h1.4M339.8 318.9h3.5M345.4 318.9h1.4M347.5 318.9h0.7M350.3 318.9h0.7M285.9 319.6h0.7M323.0 319.6h0.7M332.8 319.6h1.4M337.7 319.6h0.7M339.8 319.6h0.7M341.9 319.6h1.4M344.0 319.6h0.7M346.1 319.6h0.7M350.3 319.6h0.7M351.7 319.6h0.7M316.7 320.2h0.7M325.1 320.2h0.7M331.4 320.2h0.7M339.1 320.2h0.7M341.9 320.2h0.7M344.7 320.2h0.7M346.1 320.2h0.7M347.5 320.2h0.7M350.3 320.2h0.7M311.8 321.0h0.7M324.4 321.0h0.7M328.6 321.0h0.7M332.8 321.0h0.7M339.8 321.0h0.7M343.3 321.0h1.4M345.4 321.0h0.7M304.1 321.7h0.7M313.2 321.7h0.7M317.4 321.7h0.7M321.6 321.7h0.7M323.0 321.7h0.7M324.4 321.7h0.7M326.5 321.7h0.7M330.7 321.7h0.7M335.6 321.7h0.7M339.8 321.7h0.7M341.2 321.7h1.4M343.3 321.7h2.8M349.6 321.7h0.7M286.6 322.4h0.7M312.5 322.4h0.7M314.6 322.4h0.7M320.2 322.4h0.7M323.7 322.4h0.7M327.2 322.4h0.7M338.4 322.4h0.7M341.2 322.4h2.8M344.7 322.4h0.7M346.8 322.4h0.7M348.2 322.4h0.7M351.7 322.4h0.7M311.1 323.1h0.7M317.4 323.1h2.1M325.1 323.1h0.7M337.7 323.1h0.7M339.1 323.1h3.5M344.7 323.1h2.1M348.2 323.1h0.7M285.9 323.8h0.7M315.3 323.8h0.7M318.1 323.8h0.7M321.6 323.8h0.7M330.0 323.8h0.7M337.0 323.8h0.7M340.5 323.8h0.7M342.6 323.8h2.1M309.0 324.5h0.7M313.9 324.5h0.7M323.7 324.5h1.4M327.9 324.5h0.7M333.5 324.5h0.7M337.0 324.5h0.7M338.4 324.5h2.1M341.2 324.5h0.7M343.3 324.5h1.4M346.1 324.5h1.4M285.9 325.2h0.7M310.4 325.2h0.7M321.6 325.2h0.7M326.5 325.2h0.7M334.2 325.2h0.7M338.4 325.2h0.7M341.2 325.2h0.7M344.7 325.2h0.7M349.6 325.2h0.7M309.7 325.9h0.7M325.8 325.9h0.7M327.9 325.9h0.7M331.4 325.9h0.7M335.6 325.9h2.1M338.4 325.9h1.4M344.0 325.9h1.4M347.5 325.9h0.7M319.5 326.6h0.7M325.8 326.6h0.7M334.9 326.6h0.7M337.7 326.6h1.4M344.7 326.6h0.7M346.1 326.6h1.4M285.9 327.2h0.7M313.2 327.2h0.7M319.5 327.2h0.7M323.0 327.2h0.7M327.9 327.2h0.7M332.1 327.2h0.7M333.5 327.2h1.4M335.6 327.2h1.4M337.7 327.2h0.7M340.5 327.2h0.7M345.4 327.2h0.7M285.9 328.0h0.7M311.8 328.0h0.7M318.1 328.0h0.7M319.5 328.0h1.4M322.3 328.0h0.7M327.9 328.0h1.4M330.0 328.0h0.7M334.9 328.0h0.7M337.0 328.0h0.7M345.4 328.0h0.7M348.2 328.0h0.7M315.3 328.7h0.7M317.4 328.7h0.7M320.9 328.7h0.7M324.4 328.7h0.7M326.5 328.7h0.7M334.9 328.7h1.4M337.0 328.7h0.7M341.2 328.7h0.7M342.6 328.7h0.7M344.0 328.7h0.7M345.4 328.7h1.4M303.4 329.4h0.7M305.5 329.4h0.7M311.8 329.4h0.7M313.2 329.4h0.7M314.6 329.4h0.7M316.0 329.4h0.7M317.4 329.4h0.7M321.6 329.4h0.7M331.4 329.4h0.7M332.8 329.4h0.7M334.9 329.4h0.7M340.5 329.4h0.7M342.6 329.4h0.7M286.6 330.1h0.7M307.6 330.1h0.7M311.1 330.1h0.7M316.0 330.1h0.7M321.6 330.1h0.7M324.4 330.1h2.1M332.8 330.1h0.7M341.9 330.1h0.7M344.0 330.1h1.4M349.6 330.1h0.7M297.1 330.8h0.7M310.4 330.8h1.4M320.9 330.8h1.4M324.4 330.8h0.7M326.5 330.8h1.4M330.0 330.8h0.7M336.3 330.8h0.7M339.1 330.8h1.4M342.6 330.8h0.7M344.0 330.8h0.7M309.7 331.5h0.7M314.6 331.5h0.7M317.4 331.5h0.7M323.7 331.5h1.4M325.8 331.5h0.7M327.9 331.5h0.7M332.8 331.5h1.4M335.6 331.5h0.7M338.4 331.5h1.4M340.5 331.5h2.1M285.9 332.2h0.7M311.8 332.2h1.4M314.6 332.2h0.7M316.0 332.2h0.7M319.5 332.2h0.7M321.6 332.2h1.4M325.1 332.2h0.7M327.9 332.2h0.7M329.3 332.2h0.7M332.1 332.2h0.7M334.9 332.2h0.7M339.8 332.2h0.7M344.7 332.2h0.7M356.6 332.2h0.7M306.2 332.9h0.7M310.4 332.9h0.7M318.1 332.9h0.7M323.0 332.9h0.7M334.9 332.9h0.7M336.3 332.9h0.7M341.9 332.9h1.4M344.0 332.9h0.7M345.4 332.9h0.7M285.9 333.6h1.4M301.3 333.6h0.7M304.8 333.6h0.7M309.7 333.6h1.4M312.5 333.6h0.7M314.6 333.6h1.4M317.4 333.6h0.7M318.8 333.6h0.7M321.6 333.6h2.1M324.4 333.6h1.4M326.5 333.6h1.4M330.7 333.6h0.7M332.8 333.6h2.8M336.3 333.6h0.7M339.1 333.6h0.7M340.5 333.6h0.7M341.9 333.6h1.4M346.1 333.6h0.7M285.9 334.2h0.7M305.5 334.2h0.7M309.0 334.2h0.7M310.4 334.2h0.7M312.5 334.2h1.4M314.6 334.2h1.4M318.1 334.2h0.7M321.6 334.2h0.7M323.0 334.2h1.4M326.5 334.2h0.7M327.9 334.2h0.7M329.3 334.2h0.7M332.1 334.2h2.1M335.6 334.2h3.5M285.9 335.0h0.7M302.7 335.0h0.7M306.2 335.0h0.7M307.6 335.0h0.7M311.1 335.0h0.7M313.2 335.0h1.4M316.7 335.0h0.7M321.6 335.0h0.7M323.0 335.0h0.7M325.1 335.0h1.4M327.2 335.0h0.7M329.3 335.0h0.7M332.8 335.0h0.7M334.2 335.0h0.7M336.3 335.0h0.7M344.7 335.0h0.7M285.9 335.7h1.4M295.7 335.7h0.7M301.3 335.7h0.7M304.1 335.7h0.7M309.0 335.7h2.1M311.8 335.7h1.4M313.9 335.7h1.4M316.7 335.7h1.4M320.9 335.7h1.4M323.0 335.7h1.4M325.8 335.7h0.7M330.0 335.7h0.7M332.1 335.7h1.4M334.9 335.7h0.7M338.4 335.7h0.7M340.5 335.7h0.7M285.9 336.4h0.7M297.8 336.4h0.7M303.4 336.4h0.7M306.2 336.4h0.7M309.0 336.4h0.7M311.1 336.4h2.8M321.6 336.4h0.7M323.0 336.4h0.7M324.4 336.4h1.4M331.4 336.4h2.8M334.9 336.4h0.7M337.0 336.4h0.7M338.4 336.4h1.4M341.2 336.4h0.7M362.2 336.4h0.7M301.3 337.1h0.7M302.7 337.1h0.7M306.9 337.1h0.7M309.0 337.1h0.7M310.4 337.1h0.7M320.9 337.1h0.7M323.0 337.1h0.7M324.4 337.1h0.7M325.8 337.1h0.7M327.9 337.1h0.7M330.7 337.1h0.7M333.5 337.1h0.7M334.9 337.1h0.7M337.0 337.1h0.7M338.4 337.1h2.1M341.2 337.1h0.7M343.3 337.1h0.7M299.2 337.8h0.7M302.7 337.8h0.7M305.5 337.8h0.7M306.9 337.8h1.4M310.4 337.8h2.8M321.6 337.8h1.4M323.7 337.8h1.4M326.5 337.8h0.7M327.9 337.8h0.7M330.0 337.8h0.7M335.6 337.8h0.7M337.7 337.8h0.7M340.5 337.8h2.1M294.3 338.5h0.7M299.9 338.5h1.4M302.7 338.5h0.7M304.1 338.5h0.7M309.0 338.5h0.7M313.2 338.5h0.7M320.9 338.5h0.7M322.3 338.5h0.7M323.7 338.5h0.7M325.1 338.5h0.7M326.5 338.5h0.7M327.9 338.5h0.7M329.3 338.5h0.7M330.7 338.5h0.7M334.9 338.5h1.4M337.7 338.5h2.1M292.2 339.2h0.7M296.4 339.2h1.4M299.9 339.2h0.7M303.4 339.2h0.7M309.0 339.2h0.7M325.1 339.2h0.7M332.8 339.2h1.4M334.9 339.2h0.7M339.8 339.2h1.4M286.6 339.9h0.7M292.9 339.9h0.7M297.1 339.9h0.7M299.2 339.9h0.7M300.6 339.9h0.7M302.0 339.9h2.1M325.1 339.9h1.4M327.2 339.9h1.4M330.7 339.9h2.1M333.5 339.9h0.7M335.6 339.9h0.7M337.0 339.9h1.4M341.2 339.9h0.7M295.0 340.6h0.7M296.4 340.6h0.7M299.9 340.6h2.1M326.5 340.6h0.7M327.9 340.6h0.7M330.7 340.6h0.7M335.6 340.6h1.4M337.7 340.6h1.4M285.9 341.2h1.4M290.8 341.2h0.7M293.6 341.2h0.7M295.0 341.2h0.7M299.2 341.2h2.1M302.0 341.2h1.4M326.5 341.2h0.7M332.8 341.2h0.7M292.2 342.0h0.7M293.6 342.0h0.7M297.1 342.0h0.7M301.3 342.0h0.7M303.4 342.0h0.7M331.4 342.0h0.7M332.8 342.0h0.7M334.9 342.0h1.4M285.9 342.7h0.7M295.7 342.7h0.7M297.8 342.7h0.7M299.2 342.7h0.7M300.6 342.7h0.7M302.7 342.7h0.7M328.6 342.7h2.1M331.4 342.7h0.7M334.2 342.7h0.7M292.9 343.4h0.7M294.3 343.4h0.7M296.4 343.4h0.7M302.0 343.4h0.7M329.3 343.4h0.7M337.7 343.4h0.7M340.5 343.4h0.7M286.6 344.1h0.7M288.7 344.1h0.7M294.3 344.1h0.7M295.7 344.1h0.7M327.2 344.1h0.7M329.3 344.1h0.7M330.7 344.1h0.7M332.1 344.1h0.7M333.5 344.1h0.7M285.9 344.8h1.4M288.7 344.8h0.7M291.5 344.8h2.8M295.0 344.8h1.4M325.1 344.8h0.7M326.5 344.8h0.7M327.9 344.8h0.7M330.7 344.8h0.7M337.7 344.8h0.7M288.0 345.5h0.7M290.1 345.5h0.7M292.9 345.5h2.1M326.5 345.5h2.8M332.8 345.5h2.1M289.4 346.2h2.1M325.1 346.2h0.7M326.5 346.2h0.7M328.6 346.2h2.8M332.1 346.2h1.4M337.0 346.2h0.7M339.8 346.2h0.7M285.9 346.9h0.7M287.3 346.9h0.7M290.1 346.9h0.7M291.5 346.9h0.7M292.9 346.9h0.7M324.4 346.9h0.7M325.8 346.9h0.7M327.2 346.9h1.4M330.7 346.9h0.7M285.9 347.6h0.7M288.0 347.6h0.7M290.8 347.6h2.1M326.5 347.6h2.8M331.4 347.6h0.7M287.3 348.2h0.7M288.7 348.2h0.7M290.1 348.2h0.7M292.2 348.2h0.7M325.1 348.2h2.1M330.0 348.2h0.7M320.9 349.0h0.7M324.4 349.0h1.4M330.7 349.0h0.7M289.4 349.7h0.7M321.6 349.7h0.7M323.0 349.7h0.7M325.1 349.7h0.7M327.9 349.7h0.7M330.0 349.7h0.7M287.3 350.4h1.4M324.4 350.4h0.7M325.8 350.4h0.7M327.2 350.4h0.7M328.6 350.4h0.7M331.4 350.4h0.7M286.6 351.1h0.7M320.2 351.1h2.1M323.0 351.1h1.4M326.5 351.1h0.7M328.6 351.1h0.7M285.9 351.8h0.7M289.4 351.8h0.7M319.5 351.8h0.7M286.6 352.5h1.4M288.7 352.5h1.4M317.4 352.5h0.7M319.5 352.5h0.7M321.6 352.5h1.4M323.7 352.5h1.4M333.5 352.5h0.7M286.6 353.2h0.7M316.0 353.2h0.7M318.8 353.2h0.7M320.2 353.2h0.7M322.3 353.2h0.7M288.0 353.9h1.4M311.1 353.9h0.7M313.2 353.9h0.7M316.7 353.9h0.7M318.1 353.9h0.7M287.3 354.6h0.7M288.7 354.6h0.7M291.5 354.6h0.7M310.4 354.6h1.4M314.6 354.6h0.7M287.3 355.2h0.7M289.4 355.2h0.7M290.8 355.2h1.4M308.3 355.2h0.7M309.7 355.2h0.7M311.1 355.2h0.7M318.8 355.2h0.7M321.6 355.2h0.7M286.6 356.0h0.7M288.0 356.0h0.7M289.4 356.0h0.7M291.5 356.0h0.7M302.7 356.0h1.4M309.0 356.0h0.7M312.5 356.0h0.7M316.7 356.0h1.4M288.7 356.7h0.7M290.1 356.7h1.4M292.2 356.7h0.7M294.3 356.7h0.7M302.0 356.7h1.4M304.1 356.7h4.9M309.7 356.7h0.7M285.9 357.4h0.7M287.3 357.4h1.4M290.1 357.4h0.7M291.5 357.4h2.1M294.3 357.4h0.7M295.7 357.4h1.4M297.8 357.4h0.7M302.0 357.4h1.4M304.1 357.4h0.7M307.6 357.4h2.1M326.5 357.4h0.7M289.4 358.1h0.7M292.9 358.1h0.7M294.3 358.1h0.7M298.5 358.1h1.4M300.6 358.1h1.4M306.9 358.1h1.4M314.6 358.1h0.7M285.9 358.8h0.7M291.5 358.8h0.7M293.6 358.8h0.7M295.0 358.8h0.7M298.5 358.8h0.7M300.6 358.8h1.4M305.5 358.8h0.7M306.9 358.8h0.7M308.3 358.8h0.7M311.1 358.8h0.7M294.3 359.5h0.7M296.4 359.5h1.4M303.4 359.5h0.7M306.2 359.5h0.7M311.8 359.5h0.7M291.5 360.2h0.7M294.3 360.2h2.1M297.1 360.2h0.7M299.9 360.2h0.7M304.1 360.2h0.7M300.6 360.9h0.7M302.0 360.9h0.7M305.5 360.9h0.7M320.9 361.6h0.7M292.2 362.2h0.7M285.9 363.7h1.4M288.0 363.7h2.1M291.5 363.7h0.7M292.9 363.7h2.8M296.4 363.7h7.0" stroke="#1818e0" stroke-width="1.10" fill="none"/>
<path d="M346.8 297.2h0.7M340.5 297.9h4.9M347.5 297.9h2.1M339.8 298.6h2.1M344.7 298.6h0.7M346.1 298.6h0.7M347.5 298.6h1.4M340.5 299.3h0.7M343.3 299.3h1.4M346.1 299.3h2.1M339.8 300.0h2.1M344.7 300.0h2.1M337.7 300.7h8.4M346.8 300.7h0.7M348.2 300.7h0.7M337.7 301.4h2.1M341.2 301.4h0.7M342.6 301.4h1.4M344.7 301.4h4.2M337.7 302.1h0.7M340.5 302.1h2.8M344.7 302.1h3.5M337.7 302.8h1.4M340.5 302.8h2.1M343.3 302.8h0.7M344.7 302.8h1.4M340.5 303.5h1.4M341.2 304.2h0.7M345.4 304.2h0.7M346.1 304.9h0.7M340.5 325.2h0.7M341.9 325.2h2.1M340.5 325.9h3.5M339.1 326.6h1.4M341.2 326.6h3.5M338.4 327.2h1.4M341.2 327.2h0.7M342.6 327.2h2.1M338.4 328.0h0.7M339.8 328.0h4.2M338.4 328.7h2.1M341.9 328.7h0.7M337.7 329.4h0.7M337.0 330.1h1.4M339.8 330.1h0.7M337.0 330.8h1.4M337.0 331.5h1.4M332.8 332.2h0.7M337.0 332.2h2.8M341.2 332.2h0.7M332.1 332.9h0.7M337.0 332.9h2.8M337.0 333.6h2.1M318.8 334.2h1.4M334.9 334.2h0.7M318.8 335.0h0.7M320.2 335.0h0.7M334.9 335.0h1.4M311.1 335.7h0.7M316.0 335.7h0.7M318.8 335.7h2.1M334.2 335.7h0.7M335.6 335.7h0.7M314.6 336.4h2.8M318.1 336.4h2.8M313.2 337.1h6.3M320.2 337.1h0.7M309.0 337.8h0.7M313.2 337.8h0.7M314.6 337.8h0.7M319.5 337.8h1.4M306.2 338.5h2.8M309.7 338.5h1.4M319.5 338.5h1.4M321.6 338.5h0.7M325.8 338.5h0.7M327.2 338.5h0.7M328.6 338.5h0.7M334.2 338.5h0.7M304.8 339.2h4.2M309.7 339.2h1.4M311.8 339.2h0.7M320.9 339.2h0.7M323.0 339.2h1.4M326.5 339.2h1.4M328.6 339.2h2.8M334.2 339.2h0.7M304.1 339.9h0.7M306.9 339.9h0.7M308.3 339.9h0.7M323.7 339.9h1.4M328.6 339.9h2.1M302.7 340.6h1.4M304.8 340.6h2.8M319.5 340.6h0.7M323.7 340.6h2.8M328.6 340.6h2.1M304.1 341.2h0.7M325.8 341.2h0.7M327.2 341.2h2.8M304.1 342.0h0.7M326.5 342.0h3.5M303.4 342.7h0.7M325.8 342.7h0.7M297.1 343.4h4.9M325.1 343.4h2.1M296.4 344.1h1.4M299.9 344.1h0.7M325.1 344.1h0.7M326.5 344.1h0.7M327.2 344.8h0.7M295.0 345.5h1.4M323.7 345.5h1.4M293.6 346.2h3.5M323.7 346.2h1.4M293.6 346.9h1.4M293.6 347.6h1.4M323.0 347.6h0.7M324.4 347.6h1.4M290.8 348.2h0.7M292.9 348.2h0.7M294.3 348.2h0.7M320.2 348.2h0.7M321.6 348.2h0.7M323.7 348.2h1.4M290.8 349.0h1.4M292.9 349.0h0.7M321.6 349.0h2.8M285.9 349.7h0.7M318.8 349.7h0.7M285.9 350.4h0.7M290.1 350.4h0.7M291.5 350.4h0.7M320.2 350.4h0.7M285.9 351.1h0.7M292.2 351.1h0.7M316.7 351.1h0.7M318.1 351.1h0.7M290.1 351.8h2.8M316.0 351.8h3.5M285.9 352.5h0.7M290.1 352.5h2.1M309.7 352.5h0.7M314.6 352.5h1.4M290.8 353.2h1.4M292.9 353.2h0.7M312.5 353.2h0.7M314.6 353.2h1.4M289.4 353.9h2.1M311.8 353.9h1.4M286.6 354.6h0.7M307.6 354.6h2.8M311.8 354.6h0.7M286.6 355.2h0.7M293.6 355.2h2.1M302.0 355.2h0.7M306.2 355.2h2.1M292.2 356.0h5.6M302.0 356.0h0.7M304.1 356.0h1.4M306.2 356.0h0.7M308.3 356.0h0.7M292.9 356.7h1.4M295.0 356.7h1.4M297.1 356.7h1.4M299.9 356.7h0.7M298.5 357.4h3.5M299.9 358.1h0.7M285.9 359.5h0.7M290.8 363.7h0.7M292.2 363.7h0.7" stroke="#1040ff" stroke-width="1.10" fill="none"/>
<path d="M345.4 297.9h1.4M342.6 298.6h2.1M345.4 298.6h0.7M346.8 298.6h0.7M341.2 299.3h0.7M342.6 299.3h0.7M344.7 299.3h0.7M341.9 300.0h2.8M344.0 301.4h0.7M343.3 302.1h1.4M344.0 302.8h0.7M341.9 327.2h0.7M339.1 328.0h0.7M338.4 329.4h2.1M338.4 330.1h1.4M338.4 330.8h0.7M319.5 335.0h0.7M319.5 337.1h0.7M313.9 337.8h0.7M316.7 337.8h2.8M313.9 338.5h0.7M316.0 338.5h3.5M311.1 339.2h0.7M312.5 339.2h0.7M314.6 339.2h3.5M318.8 339.2h2.1M321.6 339.2h1.4M304.8 339.9h2.1M307.6 339.9h0.7M309.0 339.9h2.8M318.8 339.9h2.1M323.0 339.9h0.7M304.1 340.6h0.7M307.6 340.6h0.7M323.0 340.6h0.7M305.5 341.2h2.1M320.2 341.2h0.7M322.3 341.2h1.4M325.1 341.2h0.7M320.2 342.0h0.7M323.0 342.0h0.7M325.1 342.0h1.4M322.3 342.7h0.7M325.1 342.7h0.7M302.7 343.4h0.7M297.8 344.1h2.1M300.6 344.1h0.7M323.7 344.1h1.4M296.4 344.8h1.4M298.5 344.8h0.7M323.7 344.8h1.4M296.4 345.5h0.7M323.0 346.2h0.7M295.0 346.9h2.1M320.2 346.9h0.7M323.0 346.9h1.4M295.0 347.6h0.7M320.9 347.6h0.7M322.3 347.6h0.7M323.7 347.6h0.7M293.6 348.2h0.7M320.9 348.2h0.7M322.3 348.2h1.4M292.2 349.0h0.7M293.6 349.0h0.7M319.5 349.0h0.7M290.8 349.7h2.1M319.5 349.7h0.7M290.8 350.4h0.7M292.2 350.4h0.7M319.5 350.4h0.7M290.8 351.1h1.4M316.0 351.1h0.7M317.4 351.1h0.7M318.8 351.1h1.4M292.9 351.8h0.7M292.2 352.5h1.4M310.4 352.5h0.7M285.9 353.2h0.7M290.1 353.2h0.7M292.2 353.2h0.7M293.6 353.2h0.7M310.4 353.2h2.1M313.2 353.2h1.4M285.9 353.9h1.4M291.5 353.9h1.4M293.6 353.9h1.4M309.7 353.9h1.4M292.2 354.6h2.8M306.9 354.6h0.7M292.2 355.2h1.4M295.7 355.2h0.7M297.1 355.2h0.7M302.7 355.2h0.7M304.1 355.2h0.7M305.5 355.2h0.7M285.9 356.0h0.7M297.8 356.0h0.7M299.2 356.0h0.7M300.6 356.0h1.4M305.5 356.0h0.7M300.6 356.7h1.4" stroke="#0088ff" stroke-width="0.90" fill="none"/>
<path d="M341.9 298.6h0.7M341.9 299.3h0.7M345.4 299.3h0.7M315.3 337.8h0.7M314.6 338.5h1.4M313.2 339.2h1.4M318.1 339.2h0.7M311.8 339.9h1.4M313.9 339.9h2.8M320.9 339.9h2.1M308.3 340.6h2.1M311.8 340.6h1.4M313.9 340.6h1.4M318.8 340.6h0.7M320.2 340.6h1.4M322.3 340.6h0.7M304.8 341.2h0.7M307.6 341.2h1.4M318.8 341.2h1.4M320.9 341.2h1.4M323.7 341.2h1.4M304.8 342.0h1.4M306.9 342.0h0.7M319.5 342.0h0.7M320.9 342.0h2.1M323.7 342.0h1.4M304.1 342.7h1.4M306.2 342.7h1.4M319.5 342.7h2.8M323.0 342.7h2.1M303.4 343.4h0.7M306.9 343.4h0.7M322.3 343.4h2.8M301.3 344.1h2.1M304.8 344.1h0.7M320.2 344.1h0.7M322.3 344.1h1.4M297.8 344.8h0.7M299.2 344.8h1.4M321.6 344.8h2.1M297.1 345.5h2.1M300.6 345.5h0.7M321.6 345.5h2.1M297.1 346.2h0.7M319.5 346.2h3.5M297.1 346.9h0.7M318.8 346.9h1.4M320.9 346.9h2.1M295.7 347.6h0.7M319.5 347.6h1.4M321.6 347.6h0.7M295.0 348.2h2.1M318.8 348.2h1.4M297.8 349.0h0.7M318.8 349.0h0.7M320.2 349.0h0.7M292.9 349.7h2.1M315.3 349.7h1.4M317.4 349.7h1.4M292.9 350.4h1.4M295.0 350.4h0.7M315.3 350.4h2.1M318.1 350.4h1.4M292.9 351.1h0.7M294.3 351.1h1.4M314.6 351.1h1.4M294.3 351.8h0.7M309.7 351.8h1.4M313.9 351.8h2.1M293.6 352.5h1.4M295.7 352.5h1.4M311.8 352.5h2.8M294.3 353.2h2.8M306.9 353.2h0.7M309.7 353.2h0.7M292.9 353.9h0.7M295.7 353.9h0.7M302.7 353.9h0.7M306.2 353.9h3.5M285.9 354.6h0.7M295.0 354.6h2.8M299.9 354.6h1.4M302.7 354.6h0.7M304.1 354.6h2.8M285.9 355.2h0.7M296.4 355.2h0.7M297.8 355.2h0.7M299.9 355.2h1.4M303.4 355.2h0.7M304.8 355.2h0.7M298.5 356.0h0.7M299.9 356.0h0.7M298.5 356.7h1.4" stroke="#00dcec" stroke-width="0.90" fill="none"/>
<path d="M316.0 337.8h0.7M313.2 339.9h0.7M316.7 339.9h2.1M310.4 340.6h1.4M313.2 340.6h0.7M315.3 340.6h3.5M321.6 340.6h0.7M309.0 341.2h9.8M306.2 342.0h0.7M307.6 342.0h11.9M305.5 342.7h0.7M307.6 342.7h11.9M304.1 343.4h2.8M307.6 343.4h14.7M303.4 344.1h1.4M305.5 344.1h14.7M320.9 344.1h1.4M300.6 344.8h21.0M299.2 345.5h1.4M301.3 345.5h20.3M297.8 346.2h21.7M297.8 346.9h21.0M296.4 347.6h23.1M297.1 348.2h21.7M294.3 349.0h3.5M298.5 349.0h20.3M295.0 349.7h20.3M316.7 349.7h0.7M294.3 350.4h0.7M295.7 350.4h19.6M317.4 350.4h0.7M293.6 351.1h0.7M295.7 351.1h18.9M293.6 351.8h0.7M295.0 351.8h14.7M311.1 351.8h2.8M295.0 352.5h0.7M297.1 352.5h12.6M311.1 352.5h0.7M297.1 353.2h9.8M307.6 353.2h2.1M295.0 353.9h0.7M296.4 353.9h6.3M303.4 353.9h2.8M297.8 354.6h2.1M301.3 354.6h1.4M303.4 354.6h0.7M298.5 355.2h1.4M301.3 355.2h0.7" stroke="#10ea48" stroke-width="0.90" fill="none"/>
<path d="M394.4 293.0h0.7M394.4 293.7h0.7M394.4 294.4h1.4M395.1 295.1h0.7M422.4 295.1h0.7M395.1 295.8h0.7M430.8 295.8h0.7M455.3 295.8h0.7M395.1 296.5h0.7M414.7 296.5h0.7M395.1 297.2h0.7M428.7 297.2h0.7M432.2 297.2h0.7M433.6 297.2h0.7M463.0 297.2h0.7M395.1 297.9h0.7M407.0 297.9h0.7M414.7 297.9h0.7M418.9 297.9h1.4M424.5 297.9h0.7M428.0 297.9h0.7M430.1 297.9h0.7M435.7 297.9h0.7M442.7 297.9h1.4M446.9 297.9h0.7M395.1 298.6h2.1M404.9 298.6h0.7M407.7 298.6h0.7M409.1 298.6h0.7M411.2 298.6h0.7M414.0 298.6h0.7M415.4 298.6h0.7M416.8 298.6h0.7M420.3 298.6h0.7M421.7 298.6h0.7M423.1 298.6h0.7M427.3 298.6h0.7M429.4 298.6h0.7M438.5 298.6h0.7M445.5 298.6h0.7M447.6 298.6h0.7M395.1 299.3h0.7M399.3 299.3h0.7M402.1 299.3h0.7M403.5 299.3h0.7M405.6 299.3h0.7M407.7 299.3h0.7M410.5 299.3h0.7M411.9 299.3h0.7M413.3 299.3h0.7M414.7 299.3h1.4M417.5 299.3h0.7M420.3 299.3h0.7M424.5 299.3h0.7M426.6 299.3h0.7M428.0 299.3h1.4M431.5 299.3h0.7M432.9 299.3h0.7M435.7 299.3h0.7M437.8 299.3h0.7M439.2 299.3h2.1M447.6 299.3h0.7M449.0 299.3h0.7M458.1 299.3h0.7M395.1 300.0h0.7M396.5 300.0h0.7M400.0 300.0h0.7M402.8 300.0h1.4M407.0 300.0h0.7M409.8 300.0h1.4M411.9 300.0h2.1M414.7 300.0h1.4M416.8 300.0h0.7M419.6 300.0h0.7M421.7 300.0h2.1M425.2 300.0h2.8M428.7 300.0h0.7M430.8 300.0h1.4M433.6 300.0h2.8M437.1 300.0h0.7M439.9 300.0h1.4M444.1 300.0h0.7M447.6 300.0h0.7M450.4 300.0h0.7M395.1 300.7h0.7M396.5 300.7h0.7M397.9 300.7h0.7M403.5 300.7h1.4M405.6 300.7h1.4M408.4 300.7h0.7M409.8 300.7h1.4M411.9 300.7h0.7M413.3 300.7h1.4M415.4 300.7h0.7M416.8 300.7h1.4M418.9 300.7h5.6M425.9 300.7h0.7M427.3 300.7h2.8M432.2 300.7h0.7M433.6 300.7h3.5M437.8 300.7h3.5M442.0 300.7h0.7M444.8 300.7h0.7M447.6 300.7h0.7M449.0 300.7h1.4M394.4 301.4h3.5M399.3 301.4h0.7M403.5 301.4h0.7M404.9 301.4h2.8M408.4 301.4h0.7M409.8 301.4h1.4M411.9 301.4h0.7M413.3 301.4h2.1M416.1 301.4h0.7M417.5 301.4h0.7M418.9 301.4h0.7M421.0 301.4h0.7M423.1 301.4h2.1M427.3 301.4h9.1M437.8 301.4h1.4M443.4 301.4h0.7M444.8 301.4h2.1M448.3 301.4h0.7M452.5 301.4h0.7M454.6 301.4h0.7M456.7 301.4h0.7M458.1 301.4h0.7M394.4 302.1h1.4M397.2 302.1h0.7M399.3 302.1h1.4M402.1 302.1h2.8M405.6 302.1h3.5M410.5 302.1h0.7M411.9 302.1h3.5M416.1 302.1h3.5M421.0 302.1h0.7M423.1 302.1h9.8M433.6 302.1h4.2M438.5 302.1h2.1M443.4 302.1h0.7M445.5 302.1h2.1M449.0 302.1h0.7M395.1 302.8h1.4M397.9 302.8h1.4M400.0 302.8h1.4M402.1 302.8h1.4M404.2 302.8h2.8M407.7 302.8h0.7M409.8 302.8h2.1M412.6 302.8h0.7M414.0 302.8h7.0M421.7 302.8h5.6M428.7 302.8h9.1M438.5 302.8h2.1M441.3 302.8h0.7M442.7 302.8h1.4M445.5 302.8h0.7M395.1 303.5h0.7M397.2 303.5h0.7M398.6 303.5h0.7M400.0 303.5h2.8M403.5 303.5h0.7M404.9 303.5h3.5M409.8 303.5h3.5M414.0 303.5h3.5M418.2 303.5h3.5M422.4 303.5h11.2M435.0 303.5h2.8M438.5 303.5h1.4M441.3 303.5h2.1M444.1 303.5h2.1M447.6 303.5h0.7M449.0 303.5h0.7M451.8 303.5h0.7M461.6 303.5h0.7M465.8 303.5h0.7M470.7 303.5h0.7M395.1 304.2h0.7M396.5 304.2h0.7M398.6 304.2h0.7M403.5 304.2h1.4M408.4 304.2h2.1M411.2 304.2h0.7M413.3 304.2h9.1M423.1 304.2h14.7M438.5 304.2h1.4M441.3 304.2h1.4M443.4 304.2h0.7M446.9 304.2h0.7M450.4 304.2h1.4M397.9 304.9h0.7M400.7 304.9h0.7M402.1 304.9h1.4M404.2 304.9h2.1M407.7 304.9h2.1M410.5 304.9h0.7M411.9 304.9h0.7M413.3 304.9h3.5M417.5 304.9h4.2M423.1 304.9h6.3M430.1 304.9h6.3M438.5 304.9h2.1M442.7 304.9h0.7M444.1 304.9h0.7M447.6 304.9h0.7M450.4 304.9h0.7M452.5 304.9h0.7M454.6 304.9h0.7M395.1 305.6h0.7M397.9 305.6h0.7M399.3 305.6h2.1M402.8 305.6h0.7M406.3 305.6h0.7M407.7 305.6h1.4M409.8 305.6h2.8M413.3 305.6h8.4M422.4 305.6h4.2M428.0 305.6h6.3M437.1 305.6h0.7M438.5 305.6h2.1M441.3 305.6h0.7M446.9 305.6h1.4M450.4 305.6h1.4M453.2 305.6h0.7M395.1 306.3h0.7M396.5 306.3h0.7M399.3 306.3h0.7M400.7 306.3h0.7M404.2 306.3h2.1M407.0 306.3h0.7M409.8 306.3h1.4M411.9 306.3h1.4M414.0 306.3h4.9M419.6 306.3h4.9M425.2 306.3h2.1M428.0 306.3h6.3M435.7 306.3h1.4M438.5 306.3h2.8M442.0 306.3h0.7M444.8 306.3h1.4M449.7 306.3h0.7M395.8 307.0h0.7M400.7 307.0h1.4M402.8 307.0h2.1M409.8 307.0h0.7M411.2 307.0h1.4M413.3 307.0h5.6M419.6 307.0h2.1M422.4 307.0h1.4M424.5 307.0h0.7M426.6 307.0h2.1M429.4 307.0h0.7M430.8 307.0h2.8M435.0 307.0h2.1M437.8 307.0h0.7M442.7 307.0h0.7M446.2 307.0h0.7M451.8 307.0h0.7M397.2 307.7h0.7M398.6 307.7h0.7M407.0 307.7h2.1M411.9 307.7h0.7M413.3 307.7h1.4M417.5 307.7h1.4M421.7 307.7h1.4M424.5 307.7h0.7M425.9 307.7h1.4M428.0 307.7h1.4M430.1 307.7h1.4M432.9 307.7h0.7M437.8 307.7h0.7M445.5 307.7h0.7M395.1 308.4h0.7M397.2 308.4h0.7M400.0 308.4h0.7M401.4 308.4h0.7M403.5 308.4h0.7M407.7 308.4h0.7M409.8 308.4h0.7M414.0 308.4h0.7M418.2 308.4h1.4M421.0 308.4h0.7M424.5 308.4h1.4M428.7 308.4h1.4M432.9 308.4h1.4M437.1 308.4h1.4M439.2 308.4h1.4M441.3 308.4h0.7M452.5 308.4h0.7M462.3 308.4h0.7M395.1 309.1h0.7M404.2 309.1h0.7M412.6 309.1h0.7M416.8 309.1h0.7M418.9 309.1h0.7M421.0 309.1h0.7M423.8 309.1h0.7M425.2 309.1h2.1M430.1 309.1h0.7M432.9 309.1h0.7M437.1 309.1h0.7M442.7 309.1h0.7M394.4 309.8h0.7M400.7 309.8h0.7M411.2 309.8h0.7M418.2 309.8h0.7M432.9 309.8h0.7M437.8 309.8h1.4M442.7 309.8h0.7M445.5 309.8h0.7M449.0 309.8h0.7M402.1 310.5h0.7M409.8 310.5h0.7M415.4 310.5h0.7M419.6 310.5h0.7M422.4 310.5h0.7M427.3 310.5h0.7M430.1 310.5h0.7M432.2 310.5h1.4M436.4 310.5h1.4M438.5 310.5h0.7M440.6 310.5h0.7M442.7 310.5h0.7M449.0 310.5h0.7M394.4 311.2h0.7M416.1 311.2h0.7M419.6 311.2h0.7M421.7 311.2h1.4M425.2 311.2h0.7M427.3 311.2h0.7M429.4 311.2h0.7M432.2 311.2h0.7M435.0 311.2h0.7M441.3 311.2h0.7M418.9 311.9h0.7M421.0 311.9h1.4M424.5 311.9h0.7M425.9 311.9h0.7M431.5 311.9h0.7M432.9 311.9h2.1M437.1 311.9h0.7M394.4 312.6h1.4M418.2 312.6h0.7M423.1 312.6h0.7M425.2 312.6h0.7M426.6 312.6h0.7M428.7 312.6h0.7M433.6 312.6h1.4M435.7 312.6h0.7M442.0 312.6h1.4M456.7 312.6h0.7M395.1 313.2h0.7M409.1 313.2h0.7M418.9 313.2h1.4M425.2 313.2h2.1M429.4 313.2h0.7M431.5 313.2h1.4M435.7 313.2h0.7M437.8 313.2h0.7M444.8 313.2h0.7M395.1 314.0h0.7M404.9 314.0h0.7M409.8 314.0h0.7M415.4 314.0h2.1M418.9 314.0h0.7M421.0 314.0h0.7M423.8 314.0h1.4M425.9 314.0h0.7M427.3 314.0h0.7M429.4 314.0h1.4M431.5 314.0h0.7M433.6 314.0h0.7M436.4 314.0h0.7M439.9 314.0h0.7M444.1 314.0h0.7M395.1 314.7h0.7M414.0 314.7h0.7M416.1 314.7h0.7M417.5 314.7h0.7M422.4 314.7h0.7M423.8 314.7h2.8M431.5 314.7h1.4M433.6 314.7h0.7M436.4 314.7h0.7M437.8 314.7h0.7M439.9 314.7h0.7M444.1 314.7h0.7M395.1 315.4h0.7M411.9 315.4h0.7M417.5 315.4h0.7M418.9 315.4h0.7M423.1 315.4h0.7M426.6 315.4h1.4M428.7 315.4h0.7M430.1 315.4h0.7M432.2 315.4h1.4M435.7 315.4h2.1M438.5 315.4h0.7M442.0 315.4h0.7M394.4 316.1h0.7M412.6 316.1h0.7M414.0 316.1h0.7M415.4 316.1h0.7M418.2 316.1h0.7M419.6 316.1h1.4M421.7 316.1h1.4M425.9 316.1h0.7M428.0 316.1h0.7M430.1 316.1h1.4M432.2 316.1h2.8M439.9 316.1h3.5M446.2 316.1h0.7M449.7 316.1h0.7M394.4 316.8h0.7M402.1 316.8h0.7M407.0 316.8h0.7M414.0 316.8h0.7M415.4 316.8h1.4M417.5 316.8h1.4M419.6 316.8h1.4M424.5 316.8h0.7M425.9 316.8h4.2M432.2 316.8h0.7M433.6 316.8h0.7M435.0 316.8h0.7M437.1 316.8h2.8M441.3 316.8h1.4M444.1 316.8h0.7M446.2 316.8h0.7M465.1 316.8h0.7M394.4 317.5h0.7M409.1 317.5h0.7M410.5 317.5h0.7M411.9 317.5h1.4M414.0 317.5h0.7M419.6 317.5h0.7M423.8 317.5h0.7M425.9 317.5h0.7M427.3 317.5h3.5M432.2 317.5h0.7M435.0 317.5h0.7M436.4 317.5h1.4M438.5 317.5h0.7M439.9 317.5h0.7M442.0 317.5h0.7M394.4 318.2h1.4M405.6 318.2h0.7M409.8 318.2h0.7M414.7 318.2h1.4M417.5 318.2h0.7M419.6 318.2h0.7M421.0 318.2h3.5M425.2 318.2h0.7M426.6 318.2h0.7M428.0 318.2h2.1M430.8 318.2h1.4M432.9 318.2h0.7M434.3 318.2h2.1M437.1 318.2h0.7M442.7 318.2h0.7M395.1 318.9h0.7M407.0 318.9h0.7M412.6 318.9h0.7M415.4 318.9h1.4M418.9 318.9h8.4M428.0 318.9h0.7M429.4 318.9h1.4M431.5 318.9h4.9M437.8 318.9h0.7M439.9 318.9h0.7M441.3 318.9h0.7M442.7 318.9h0.7M446.2 318.9h0.7M450.4 318.9h0.7M395.1 319.6h0.7M409.1 319.6h1.4M411.9 319.6h1.4M418.9 319.6h4.2M423.8 319.6h0.7M425.2 319.6h2.8M429.4 319.6h1.4M432.2 319.6h1.4M435.0 319.6h0.7M436.4 319.6h2.8M440.6 319.6h1.4M453.2 319.6h0.7M395.1 320.2h0.7M402.8 320.2h0.7M407.7 320.2h0.7M409.8 320.2h1.4M411.9 320.2h0.7M414.7 320.2h0.7M416.1 320.2h0.7M417.5 320.2h1.4M419.6 320.2h0.7M421.7 320.2h2.8M425.2 320.2h2.8M429.4 320.2h1.4M432.2 320.2h0.7M434.3 320.2h1.4M436.4 320.2h0.7M437.8 320.2h0.7M439.9 320.2h0.7M441.3 320.2h0.7M444.8 320.2h0.7M395.1 321.0h0.7M402.1 321.0h0.7M404.9 321.0h1.4M407.7 321.0h1.4M409.8 321.0h2.1M412.6 321.0h1.4M415.4 321.0h0.7M416.8 321.0h1.4M419.6 321.0h3.5M424.5 321.0h2.1M427.3 321.0h2.1M430.1 321.0h4.2M435.7 321.0h1.4M437.8 321.0h2.1M442.0 321.0h0.7M446.9 321.0h0.7M458.8 321.0h0.7M395.1 321.7h0.7M408.4 321.7h0.7M411.9 321.7h1.4M415.4 321.7h2.8M418.9 321.7h1.4M421.0 321.7h4.2M425.9 321.7h1.4M428.0 321.7h0.7M429.4 321.7h2.1M432.2 321.7h2.1M435.0 321.7h2.8M442.0 321.7h0.7M395.1 322.4h0.7M405.6 322.4h1.4M411.9 322.4h0.7M413.3 322.4h0.7M415.4 322.4h4.9M421.7 322.4h2.8M425.2 322.4h4.9M432.2 322.4h3.5M436.4 322.4h0.7M439.2 322.4h0.7M443.4 322.4h0.7M446.2 322.4h0.7M449.7 322.4h0.7M395.1 323.1h0.7M407.7 323.1h0.7M409.1 323.1h0.7M410.5 323.1h0.7M414.0 323.1h4.9M420.3 323.1h0.7M421.7 323.1h1.4M425.9 323.1h2.1M428.7 323.1h2.1M431.5 323.1h0.7M432.9 323.1h4.2M437.8 323.1h2.8M443.4 323.1h0.7M444.8 323.1h1.4M451.1 323.1h0.7M404.9 323.8h0.7M407.0 323.8h1.4M410.5 323.8h1.4M412.6 323.8h0.7M414.7 323.8h0.7M416.1 323.8h2.1M419.6 323.8h2.1M422.4 323.8h1.4M425.9 323.8h1.4M428.7 323.8h8.4M437.8 323.8h0.7M439.2 323.8h1.4M443.4 323.8h1.4M447.6 323.8h0.7M450.4 323.8h0.7M456.7 323.8h0.7M395.1 324.5h0.7M401.4 324.5h0.7M404.2 324.5h0.7M405.6 324.5h0.7M410.5 324.5h2.1M413.3 324.5h7.7M421.7 324.5h0.7M423.8 324.5h2.1M426.6 324.5h0.7M428.0 324.5h1.4M430.1 324.5h3.5M434.3 324.5h0.7M435.7 324.5h1.4M437.8 324.5h0.7M440.6 324.5h0.7M442.7 324.5h0.7M444.8 324.5h0.7M446.9 324.5h0.7M395.1 325.2h0.7M396.5 325.2h0.7M403.5 325.2h0.7M406.3 325.2h0.7M410.5 325.2h0.7M412.6 325.2h7.0M420.3 325.2h2.1M423.8 325.2h1.4M428.0 325.2h1.4M430.1 325.2h4.2M435.7 325.2h0.7M437.1 325.2h1.4M439.9 325.2h0.7M441.3 325.2h1.4M447.6 325.2h1.4M457.4 325.2h0.7M400.0 325.9h0.7M403.5 325.9h0.7M406.3 325.9h0.7M408.4 325.9h0.7M410.5 325.9h0.7M412.6 325.9h0.7M414.0 325.9h4.2M420.3 325.9h2.1M423.8 325.9h2.1M426.6 325.9h0.7M428.0 325.9h0.7M429.4 325.9h1.4M431.5 325.9h2.1M435.0 325.9h2.8M438.5 325.9h1.4M410.5 326.6h1.4M413.3 326.6h1.4M416.1 326.6h2.8M420.3 326.6h2.8M425.2 326.6h1.4M428.0 326.6h0.7M430.1 326.6h6.3M438.5 326.6h0.7M440.6 326.6h0.7M442.0 326.6h0.7M443.4 326.6h0.7M406.3 327.2h0.7M407.7 327.2h0.7M409.1 327.2h0.7M410.5 327.2h4.2M416.1 327.2h3.5M420.3 327.2h3.5M427.3 327.2h0.7M430.8 327.2h3.5M435.0 327.2h2.1M437.8 327.2h0.7M439.9 327.2h0.7M441.3 327.2h0.7M444.1 327.2h0.7M397.9 328.0h0.7M403.5 328.0h0.7M407.7 328.0h2.1M411.2 328.0h1.4M413.3 328.0h0.7M415.4 328.0h2.8M420.3 328.0h1.4M423.8 328.0h0.7M427.3 328.0h0.7M430.8 328.0h6.3M437.8 328.0h3.5M444.1 328.0h0.7M396.5 328.7h0.7M399.3 328.7h2.1M405.6 328.7h0.7M407.7 328.7h3.5M411.9 328.7h1.4M414.0 328.7h0.7M415.4 328.7h2.1M419.6 328.7h1.4M426.6 328.7h0.7M431.5 328.7h3.5M435.7 328.7h3.5M440.6 328.7h0.7M442.0 328.7h0.7M448.3 328.7h0.7M449.7 328.7h0.7M459.5 328.7h0.7M395.1 329.4h0.7M403.5 329.4h0.7M404.9 329.4h1.4M407.0 329.4h4.2M411.9 329.4h2.8M416.8 329.4h0.7M424.5 329.4h0.7M425.9 329.4h0.7M427.3 329.4h0.7M430.1 329.4h1.4M432.2 329.4h4.2M437.8 329.4h1.4M441.3 329.4h0.7M443.4 329.4h0.7M446.9 329.4h0.7M399.3 330.1h0.7M402.8 330.1h2.8M406.3 330.1h0.7M407.7 330.1h0.7M409.8 330.1h7.0M423.1 330.1h0.7M424.5 330.1h1.4M427.3 330.1h0.7M432.2 330.1h7.7M395.1 330.8h0.7M402.8 330.8h2.1M405.6 330.8h0.7M407.7 330.8h0.7M410.5 330.8h2.1M413.3 330.8h3.5M427.3 330.8h2.1M431.5 330.8h2.1M434.3 330.8h2.8M439.9 330.8h0.7M441.3 330.8h0.7M442.7 330.8h0.7M395.1 331.5h0.7M400.0 331.5h0.7M402.1 331.5h0.7M405.6 331.5h0.7M408.4 331.5h4.2M413.3 331.5h2.1M416.1 331.5h0.7M430.8 331.5h0.7M432.2 331.5h2.1M435.0 331.5h0.7M437.8 331.5h0.7M439.9 331.5h0.7M444.1 331.5h0.7M447.6 331.5h0.7M395.1 332.2h1.4M400.7 332.2h0.7M403.5 332.2h0.7M405.6 332.2h10.5M416.8 332.2h0.7M427.3 332.2h0.7M430.8 332.2h1.4M432.9 332.2h0.7M435.7 332.2h0.7M437.1 332.2h0.7M438.5 332.2h1.4M441.3 332.2h1.4M395.1 332.9h0.7M397.2 332.9h0.7M400.0 332.9h0.7M402.1 332.9h0.7M403.5 332.9h1.4M405.6 332.9h5.6M411.9 332.9h0.7M414.0 332.9h0.7M415.4 332.9h1.4M430.1 332.9h0.7M431.5 332.9h2.8M435.7 332.9h0.7M437.1 332.9h2.8M440.6 332.9h1.4M442.7 332.9h0.7M465.8 332.9h0.7M395.1 333.6h0.7M397.9 333.6h0.7M400.7 333.6h0.7M404.2 333.6h1.4M407.0 333.6h0.7M408.4 333.6h2.8M412.6 333.6h0.7M414.7 333.6h1.4M430.1 333.6h0.7M432.2 333.6h2.8M435.7 333.6h1.4M437.8 333.6h0.7M439.2 333.6h0.7M442.0 333.6h1.4M444.8 333.6h0.7M395.1 334.2h0.7M399.3 334.2h0.7M401.4 334.2h1.4M403.5 334.2h0.7M406.3 334.2h0.7M407.7 334.2h0.7M409.8 334.2h1.4M414.7 334.2h0.7M429.4 334.2h4.2M438.5 334.2h0.7M439.9 334.2h0.7M441.3 334.2h1.4M443.4 334.2h0.7M447.6 334.2h0.7M395.1 335.0h1.4M401.4 335.0h1.4M403.5 335.0h2.1M406.3 335.0h2.1M409.8 335.0h0.7M411.2 335.0h1.4M425.2 335.0h0.7M430.1 335.0h4.9M435.7 335.0h0.7M437.1 335.0h0.7M438.5 335.0h0.7M443.4 335.0h0.7M449.7 335.0h0.7M395.1 335.7h0.7M400.0 335.7h0.7M402.8 335.7h2.8M408.4 335.7h2.1M430.1 335.7h0.7M431.5 335.7h4.2M437.1 335.7h0.7M394.4 336.4h1.4M398.6 336.4h0.7M400.0 336.4h0.7M402.8 336.4h0.7M404.2 336.4h0.7M405.6 336.4h1.4M407.7 336.4h0.7M409.1 336.4h2.8M414.0 336.4h0.7M429.4 336.4h7.7M437.8 336.4h0.7M441.3 336.4h0.7M394.4 337.1h1.4M399.3 337.1h0.7M400.7 337.1h1.4M402.8 337.1h1.4M404.9 337.1h0.7M407.0 337.1h1.4M409.1 337.1h2.8M429.4 337.1h6.3M436.4 337.1h3.5M444.1 337.1h0.7M448.3 337.1h0.7M394.4 337.8h0.7M400.0 337.8h0.7M401.4 337.8h0.7M402.8 337.8h0.7M404.2 337.8h2.8M407.7 337.8h1.4M409.8 337.8h0.7M430.1 337.8h7.0M444.1 337.8h0.7M394.4 338.5h0.7M401.4 338.5h0.7M402.8 338.5h1.4M404.9 338.5h5.6M430.1 338.5h2.1M433.6 338.5h2.1M443.4 338.5h0.7M395.1 339.2h0.7M398.6 339.2h2.1M404.2 339.2h5.6M427.3 339.2h4.9M432.9 339.2h0.7M434.3 339.2h0.7M438.5 339.2h0.7M439.9 339.2h0.7M447.6 339.2h0.7M394.4 339.9h0.7M397.2 339.9h0.7M400.0 339.9h0.7M404.2 339.9h0.7M405.6 339.9h4.2M427.3 339.9h5.6M433.6 339.9h1.4M442.0 339.9h0.7M395.8 340.6h0.7M397.2 340.6h0.7M399.3 340.6h0.7M403.5 340.6h3.5M407.7 340.6h1.4M427.3 340.6h0.7M428.7 340.6h0.7M430.1 340.6h1.4M432.2 340.6h2.8M437.8 340.6h0.7M394.4 341.2h0.7M399.3 341.2h0.7M404.2 341.2h4.2M427.3 341.2h2.1M430.1 341.2h0.7M431.5 341.2h0.7M432.9 341.2h0.7M435.0 341.2h0.7M437.1 341.2h0.7M442.0 341.2h1.4M394.4 342.0h0.7M402.1 342.0h4.9M407.7 342.0h0.7M426.6 342.0h4.2M432.9 342.0h0.7M435.0 342.0h0.7M436.4 342.0h0.7M437.8 342.0h0.7M439.2 342.0h0.7M394.4 342.7h1.4M397.9 342.7h0.7M402.8 342.7h2.8M406.3 342.7h0.7M425.9 342.7h4.2M430.8 342.7h1.4M433.6 342.7h0.7M435.7 342.7h0.7M437.1 342.7h0.7M448.3 342.7h0.7M396.5 343.4h0.7M399.3 343.4h0.7M400.7 343.4h0.7M402.1 343.4h2.1M405.6 343.4h0.7M426.6 343.4h2.8M430.1 343.4h0.7M431.5 343.4h0.7M432.9 343.4h0.7M394.4 344.1h0.7M396.5 344.1h0.7M398.6 344.1h7.0M425.9 344.1h2.1M429.4 344.1h1.4M431.5 344.1h0.7M433.6 344.1h1.4M436.4 344.1h0.7M438.5 344.1h0.7M395.1 344.8h0.7M397.2 344.8h1.4M400.7 344.8h4.2M425.2 344.8h2.1M428.7 344.8h1.4M432.9 344.8h2.1M436.4 344.8h0.7M440.6 344.8h0.7M397.2 345.5h1.4M399.3 345.5h4.2M404.2 345.5h1.4M424.5 345.5h2.1M427.3 345.5h2.8M432.2 345.5h1.4M446.9 345.5h0.7M394.4 346.2h0.7M397.2 346.2h1.4M400.7 346.2h2.1M423.8 346.2h2.1M426.6 346.2h0.7M428.7 346.2h2.8M443.4 346.2h0.7M394.4 346.9h0.7M395.8 346.9h0.7M397.2 346.9h2.1M400.7 346.9h2.1M421.7 346.9h0.7M424.5 346.9h1.4M427.3 346.9h0.7M428.7 346.9h0.7M430.1 346.9h1.4M432.2 346.9h0.7M435.0 346.9h0.7M437.1 346.9h0.7M394.4 347.6h0.7M397.2 347.6h0.7M399.3 347.6h2.1M420.3 347.6h3.5M424.5 347.6h2.1M427.3 347.6h0.7M429.4 347.6h1.4M431.5 347.6h1.4M435.0 347.6h0.7M394.4 348.2h1.4M397.2 348.2h3.5M401.4 348.2h0.7M419.6 348.2h2.1M422.4 348.2h4.2M427.3 348.2h4.2M432.2 348.2h1.4M435.0 348.2h0.7M441.3 348.2h0.7M394.4 349.0h1.4M397.9 349.0h4.9M420.3 349.0h1.4M423.1 349.0h3.5M428.0 349.0h0.7M431.5 349.0h0.7M432.9 349.0h0.7M435.7 349.0h1.4M438.5 349.0h0.7M394.4 349.7h3.5M399.3 349.7h1.4M401.4 349.7h0.7M421.0 349.7h0.7M423.8 349.7h4.9M430.8 349.7h2.1M433.6 349.7h0.7M437.1 349.7h0.7M395.1 350.4h0.7M396.5 350.4h1.4M398.6 350.4h1.4M401.4 350.4h0.7M416.8 350.4h2.8M420.3 350.4h0.7M422.4 350.4h0.7M423.8 350.4h1.4M430.1 350.4h0.7M431.5 350.4h1.4M435.7 350.4h1.4M395.1 351.1h0.7M399.3 351.1h0.7M416.8 351.1h4.2M421.7 351.1h0.7M425.2 351.1h1.4M431.5 351.1h0.7M395.1 351.8h2.1M399.3 351.8h0.7M400.7 351.8h0.7M416.1 351.8h0.7M418.2 351.8h4.9M433.6 351.8h0.7M394.4 352.5h1.4M397.2 352.5h0.7M398.6 352.5h1.4M416.1 352.5h5.6M423.1 352.5h0.7M426.6 352.5h1.4M429.4 352.5h0.7M434.3 352.5h0.7M444.1 352.5h0.7M395.1 353.2h1.4M397.2 353.2h0.7M398.6 353.2h0.7M415.4 353.2h4.9M421.7 353.2h0.7M425.2 353.2h0.7M426.6 353.2h0.7M428.0 353.2h0.7M433.6 353.2h0.7M441.3 353.2h0.7M395.8 353.9h4.9M401.4 353.9h0.7M414.7 353.9h1.4M416.8 353.9h3.5M421.7 353.9h0.7M423.1 353.9h0.7M425.2 353.9h0.7M427.3 353.9h0.7M430.8 353.9h0.7M446.9 353.9h0.7M395.1 354.6h6.3M402.1 354.6h0.7M409.1 354.6h0.7M413.3 354.6h1.4M415.4 354.6h3.5M419.6 354.6h2.8M423.1 354.6h0.7M425.9 354.6h0.7M430.8 354.6h0.7M395.1 355.2h2.8M400.0 355.2h2.1M402.8 355.2h1.4M408.4 355.2h1.4M410.5 355.2h0.7M411.9 355.2h0.7M414.7 355.2h0.7M417.5 355.2h0.7M421.7 355.2h0.7M423.8 355.2h0.7M425.2 355.2h1.4M396.5 356.0h1.4M399.3 356.0h2.1M402.1 356.0h2.1M404.9 356.0h0.7M407.0 356.0h0.7M408.4 356.0h4.2M413.3 356.0h2.8M418.2 356.0h1.4M424.5 356.0h0.7M396.5 356.7h0.7M398.6 356.7h4.2M403.5 356.7h7.0M411.2 356.7h0.7M412.6 356.7h0.7M414.7 356.7h0.7M416.8 356.7h0.7M420.3 356.7h1.4M424.5 356.7h0.7M396.5 357.4h0.7M397.9 357.4h2.8M402.1 357.4h8.4M411.2 357.4h2.1M414.0 357.4h0.7M418.9 357.4h0.7M421.0 357.4h0.7M432.2 357.4h0.7M395.8 358.1h0.7M398.6 358.1h2.1M401.4 358.1h0.7M402.8 358.1h6.3M409.8 358.1h0.7M411.2 358.1h0.7M412.6 358.1h2.1M415.4 358.1h0.7M425.2 358.1h0.7M430.1 358.1h0.7M395.1 358.8h0.7M396.5 358.8h0.7M399.3 358.8h4.2M404.2 358.8h1.4M407.0 358.8h0.7M409.1 358.8h1.4M411.2 358.8h0.7M422.4 358.8h0.7M442.0 358.8h0.7M394.4 359.5h0.7M395.8 359.5h0.7M402.8 359.5h0.7M404.9 359.5h0.7M406.3 359.5h2.1M409.1 359.5h0.7M410.5 359.5h1.4M412.6 359.5h0.7M423.1 359.5h0.7M432.9 359.5h0.7M441.3 359.5h0.7M395.1 360.2h0.7M397.2 360.2h2.1M400.0 360.2h0.7M402.8 360.2h0.7M405.6 360.2h1.4M408.4 360.2h0.7M412.6 360.2h1.4M416.8 360.2h0.7M419.6 360.2h0.7M394.4 360.9h2.1M397.9 360.9h0.7M400.7 360.9h1.4M403.5 360.9h1.4M405.6 360.9h0.7M409.1 360.9h0.7M424.5 360.9h0.7M394.4 361.6h2.8M397.9 361.6h0.7M399.3 361.6h0.7M400.7 361.6h0.7M402.1 361.6h2.1M407.7 361.6h1.4M412.6 361.6h0.7M415.4 361.6h0.7M418.2 361.6h0.7M430.8 361.6h0.7M395.1 362.2h0.7M396.5 362.2h1.4M402.1 362.2h2.1M406.3 362.2h0.7M411.2 362.2h0.7M419.6 362.2h0.7M395.1 363.0h0.7M396.5 363.0h1.4M402.8 363.0h0.7M405.6 363.0h0.7M410.5 363.0h0.7M421.7 363.0h0.7M395.1 363.7h0.7M396.5 363.7h9.8M407.0 363.7h0.7M408.4 363.7h0.7M409.8 363.7h1.4M411.9 363.7h2.1M414.7 363.7h4.9M420.3 363.7h2.1M424.5 363.7h0.7M394.4 364.4h0.7M397.2 364.4h0.7" stroke="#1818e0" stroke-width="1.10" fill="none"/>
<path d="M394.4 295.1h0.7M394.4 298.6h0.7M394.4 299.3h0.7M394.4 300.0h0.7M394.4 300.7h0.7M421.7 301.4h1.4M415.4 302.1h0.7M421.7 302.1h1.4M432.9 302.1h0.7M394.4 302.8h0.7M421.0 302.8h0.7M427.3 302.8h1.4M394.4 303.5h0.7M417.5 303.5h0.7M421.7 303.5h0.7M394.4 304.2h0.7M394.4 304.9h1.4M429.4 304.9h0.7M395.1 307.0h0.7M395.1 307.7h0.7M394.4 308.4h0.7M394.4 309.1h0.7M394.4 310.5h0.7M394.4 311.9h0.7M394.4 313.2h0.7M394.4 314.0h0.7M394.4 314.7h0.7M394.4 315.4h0.7M394.4 318.9h0.7M394.4 320.2h0.7M420.3 320.2h1.4M394.4 321.0h0.7M426.6 321.0h0.7M394.4 321.7h0.7M425.2 321.7h0.7M427.3 321.7h0.7M394.4 322.4h0.7M424.5 322.4h0.7M423.1 323.1h2.8M428.0 323.1h0.7M395.1 323.8h0.7M415.4 323.8h0.7M423.8 323.8h2.1M427.3 323.8h1.4M422.4 324.5h1.4M425.9 324.5h0.7M427.3 324.5h0.7M429.4 324.5h0.7M394.4 325.2h0.7M419.6 325.2h0.7M422.4 325.2h1.4M425.2 325.2h2.8M429.4 325.2h0.7M395.1 325.9h0.7M418.2 325.9h2.1M422.4 325.9h1.4M425.9 325.9h0.7M427.3 325.9h0.7M428.7 325.9h0.7M430.8 325.9h0.7M395.1 326.6h0.7M414.7 326.6h1.4M418.9 326.6h1.4M423.1 326.6h2.1M426.6 326.6h1.4M428.7 326.6h1.4M395.1 327.2h0.7M414.7 327.2h1.4M419.6 327.2h0.7M423.8 327.2h3.5M428.0 327.2h0.7M429.4 327.2h1.4M434.3 327.2h0.7M395.1 328.0h0.7M414.0 328.0h1.4M418.2 328.0h2.1M421.7 328.0h2.1M424.5 328.0h2.8M428.0 328.0h2.8M395.1 328.7h0.7M413.3 328.7h0.7M414.7 328.7h0.7M417.5 328.7h2.1M421.0 328.7h5.6M427.3 328.7h4.2M414.7 329.4h2.1M417.5 329.4h2.8M421.0 329.4h3.5M425.2 329.4h0.7M426.6 329.4h0.7M428.0 329.4h2.1M431.5 329.4h0.7M394.4 330.1h1.4M416.8 330.1h3.5M421.0 330.1h2.1M423.8 330.1h0.7M425.9 330.1h1.4M428.0 330.1h4.2M394.4 330.8h0.7M412.6 330.8h0.7M416.8 330.8h0.7M418.2 330.8h1.4M420.3 330.8h3.5M424.5 330.8h2.8M429.4 330.8h2.1M394.4 331.5h0.7M412.6 331.5h0.7M415.4 331.5h0.7M416.8 331.5h6.3M423.8 331.5h0.7M425.9 331.5h4.9M431.5 331.5h0.7M394.4 332.2h0.7M416.1 332.2h0.7M417.5 332.2h2.8M421.0 332.2h0.7M424.5 332.2h0.7M425.9 332.2h1.4M428.0 332.2h2.8M432.2 332.2h0.7M394.4 332.9h0.7M411.2 332.9h0.7M412.6 332.9h1.4M414.7 332.9h0.7M416.8 332.9h0.7M418.2 332.9h2.1M422.4 332.9h0.7M425.9 332.9h3.5M430.8 332.9h0.7M394.4 333.6h0.7M411.2 333.6h1.4M413.3 333.6h1.4M416.1 333.6h0.7M417.5 333.6h2.1M423.1 333.6h0.7M425.2 333.6h4.9M430.8 333.6h1.4M394.4 334.2h0.7M411.2 334.2h3.5M415.4 334.2h1.4M417.5 334.2h2.1M424.5 334.2h4.9M394.4 335.0h0.7M410.5 335.0h0.7M412.6 335.0h3.5M422.4 335.0h2.1M425.9 335.0h4.2M394.4 335.7h0.7M410.5 335.7h2.1M413.3 335.7h2.8M421.0 335.7h0.7M423.1 335.7h0.7M426.6 335.7h2.1M429.4 335.7h0.7M430.8 335.7h0.7M411.9 336.4h1.4M418.9 336.4h0.7M421.7 336.4h0.7M423.1 336.4h0.7M427.3 336.4h0.7M428.7 336.4h0.7M411.9 337.1h0.7M414.0 337.1h1.4M418.2 337.1h0.7M425.9 337.1h1.4M428.0 337.1h1.4M410.5 337.8h2.1M413.3 337.8h1.4M424.5 337.8h0.7M426.6 337.8h0.7M428.0 337.8h2.1M410.5 338.5h1.4M412.6 338.5h1.4M417.5 338.5h0.7M425.2 338.5h4.9M409.8 339.2h3.5M416.8 339.2h1.4M425.2 339.2h2.1M411.2 339.9h0.7M412.6 339.9h0.7M418.2 339.9h0.7M421.0 339.9h0.7M425.2 339.9h0.7M426.6 339.9h0.7M407.0 340.6h0.7M409.1 340.6h2.1M412.6 340.6h0.7M425.9 340.6h1.4M408.4 341.2h1.4M418.9 341.2h0.7M423.1 341.2h2.1M426.6 341.2h0.7M407.0 342.0h0.7M408.4 342.0h0.7M422.4 342.0h4.2M405.6 342.7h0.7M407.0 342.7h1.4M423.1 342.7h2.8M394.4 343.4h0.7M404.2 343.4h1.4M406.3 343.4h1.4M423.8 343.4h2.8M405.6 344.1h2.1M421.7 344.1h0.7M423.8 344.1h2.1M404.9 344.8h1.4M407.7 344.8h0.7M424.5 344.8h0.7M403.5 345.5h0.7M406.3 345.5h1.4M421.0 345.5h3.5M402.8 346.2h3.5M421.0 346.2h2.8M402.8 346.9h1.4M404.9 346.9h0.7M419.6 346.9h2.1M422.4 346.9h2.1M401.4 347.6h1.4M403.5 347.6h2.1M419.6 347.6h0.7M423.8 347.6h0.7M400.7 348.2h0.7M402.1 348.2h2.1M417.5 348.2h1.4M402.8 349.0h2.1M415.4 349.0h0.7M417.5 349.0h1.4M419.6 349.0h0.7M400.7 349.7h0.7M402.1 349.7h2.1M415.4 349.7h5.6M394.4 350.4h0.7M400.0 350.4h1.4M402.1 350.4h2.1M411.2 350.4h0.7M414.0 350.4h1.4M416.1 350.4h0.7M419.6 350.4h0.7M394.4 351.1h0.7M400.0 351.1h4.9M412.6 351.1h1.4M414.7 351.1h2.1M394.4 351.8h0.7M400.0 351.8h0.7M401.4 351.8h2.1M404.9 351.8h0.7M408.4 351.8h1.4M411.9 351.8h0.7M413.3 351.8h1.4M415.4 351.8h0.7M416.8 351.8h1.4M400.0 352.5h3.5M411.9 352.5h4.2M394.4 353.2h0.7M399.3 353.2h3.5M404.2 353.2h0.7M407.0 353.2h3.5M411.2 353.2h0.7M412.6 353.2h1.4M414.7 353.2h0.7M420.3 353.2h0.7M394.4 353.9h1.4M400.7 353.9h0.7M402.1 353.9h1.4M404.2 353.9h0.7M407.7 353.9h2.1M411.9 353.9h0.7M413.3 353.9h1.4M394.4 354.6h0.7M401.4 354.6h0.7M402.8 354.6h3.5M407.7 354.6h1.4M409.8 354.6h3.5M414.7 354.6h0.7M394.4 355.2h0.7M402.1 355.2h0.7M404.2 355.2h4.2M409.8 355.2h0.7M411.2 355.2h0.7M412.6 355.2h2.1M394.4 356.0h1.4M401.4 356.0h0.7M404.2 356.0h0.7M405.6 356.0h1.4M407.7 356.0h0.7M395.1 356.7h0.7M402.8 356.7h0.7M395.1 357.4h0.7M400.7 357.4h1.4M394.4 358.1h1.4M400.7 358.1h0.7M394.4 358.8h0.7M395.1 359.5h0.7M394.4 360.2h0.7M394.4 362.2h0.7M394.4 363.7h0.7" stroke="#1040ff" stroke-width="1.10" fill="none"/>
<path d="M394.4 295.8h0.7M394.4 297.2h0.7M394.4 297.9h0.7M394.4 305.6h0.7M394.4 306.3h0.7M394.4 307.0h0.7M394.4 307.7h0.7M394.4 319.6h0.7M394.4 323.1h0.7M394.4 325.9h0.7M394.4 327.2h0.7M428.7 327.2h0.7M394.4 328.0h0.7M394.4 328.7h0.7M394.4 329.4h0.7M420.3 329.4h0.7M420.3 330.1h0.7M417.5 330.8h0.7M423.8 330.8h0.7M424.5 331.5h1.4M420.3 332.2h0.7M421.7 332.2h2.8M417.5 332.9h0.7M420.3 332.9h1.4M423.1 332.9h2.1M429.4 332.9h0.7M416.8 333.6h0.7M419.6 333.6h2.1M422.4 333.6h0.7M423.8 333.6h1.4M419.6 334.2h2.1M422.4 334.2h2.1M416.1 335.0h2.1M421.7 335.0h0.7M424.5 335.0h0.7M412.6 335.7h0.7M416.1 335.7h1.4M418.9 335.7h1.4M421.7 335.7h1.4M423.8 335.7h1.4M425.9 335.7h0.7M428.7 335.7h0.7M413.3 336.4h0.7M414.7 336.4h2.1M418.2 336.4h0.7M420.3 336.4h1.4M422.4 336.4h0.7M423.8 336.4h0.7M425.2 336.4h2.1M428.0 336.4h0.7M413.3 337.1h0.7M416.1 337.1h0.7M417.5 337.1h0.7M419.6 337.1h2.1M425.2 337.1h0.7M427.3 337.1h0.7M412.6 337.8h0.7M414.7 337.8h0.7M416.8 337.8h2.8M421.0 337.8h0.7M425.2 337.8h1.4M414.0 338.5h2.1M416.8 338.5h0.7M418.2 338.5h0.7M419.6 338.5h0.7M421.0 338.5h1.4M423.8 338.5h1.4M413.3 339.2h2.1M418.2 339.2h1.4M421.0 339.2h0.7M422.4 339.2h1.4M409.8 339.9h1.4M411.9 339.9h0.7M413.3 339.9h0.7M417.5 339.9h0.7M419.6 339.9h1.4M422.4 339.9h0.7M423.8 339.9h1.4M425.9 339.9h0.7M411.2 340.6h1.4M413.3 340.6h0.7M418.2 340.6h3.5M423.1 340.6h2.8M409.8 341.2h2.8M417.5 341.2h0.7M420.3 341.2h2.8M425.2 341.2h1.4M409.1 342.0h0.7M410.5 342.0h0.7M411.9 342.0h0.7M417.5 342.0h1.4M419.6 342.0h1.4M421.7 342.0h0.7M408.4 342.7h0.7M419.6 342.7h0.7M421.0 342.7h0.7M422.4 342.7h0.7M420.3 343.4h2.8M407.7 344.1h0.7M419.6 344.1h0.7M421.0 344.1h0.7M422.4 344.1h1.4M406.3 344.8h0.7M419.6 344.8h1.4M421.7 344.8h2.8M405.6 345.5h0.7M420.3 345.5h0.7M406.3 346.2h0.7M416.8 346.2h0.7M418.2 346.2h0.7M420.3 346.2h0.7M404.2 346.9h0.7M405.6 346.9h1.4M414.7 346.9h0.7M417.5 346.9h0.7M402.8 347.6h0.7M405.6 347.6h1.4M408.4 347.6h0.7M415.4 347.6h0.7M417.5 347.6h1.4M404.2 348.2h0.7M406.3 348.2h0.7M414.7 348.2h1.4M416.8 348.2h0.7M418.9 348.2h0.7M404.9 349.0h0.7M416.1 349.0h1.4M418.9 349.0h0.7M404.2 349.7h1.4M413.3 349.7h0.7M404.2 350.4h1.4M415.4 350.4h0.7M404.9 351.1h0.7M407.0 351.1h0.7M410.5 351.1h0.7M414.0 351.1h0.7M403.5 351.8h1.4M405.6 351.8h2.1M410.5 351.8h0.7M412.6 351.8h0.7M414.7 351.8h0.7M403.5 352.5h2.1M407.0 352.5h0.7M402.8 353.2h1.4M406.3 353.2h0.7M411.9 353.2h0.7M414.0 353.2h0.7M403.5 353.9h0.7M404.9 353.9h2.8M409.8 353.9h2.1M412.6 353.9h0.7M407.0 354.6h0.7M394.4 356.7h0.7M394.4 357.4h0.7M394.4 363.0h0.7" stroke="#0088ff" stroke-width="0.90" fill="none"/>
<path d="M394.4 296.5h0.7M394.4 323.8h0.7M394.4 324.5h0.7M394.4 326.6h0.7M419.6 330.8h0.7M423.1 331.5h0.7M425.2 332.2h0.7M421.7 332.9h0.7M425.2 332.9h0.7M421.7 333.6h0.7M416.8 334.2h0.7M421.7 334.2h0.7M418.2 335.0h3.5M417.5 335.7h1.4M420.3 335.7h0.7M425.2 335.7h0.7M416.8 336.4h1.4M419.6 336.4h0.7M424.5 336.4h0.7M412.6 337.1h0.7M415.4 337.1h0.7M416.8 337.1h0.7M418.9 337.1h0.7M421.7 337.1h3.5M415.4 337.8h1.4M419.6 337.8h1.4M421.7 337.8h2.8M427.3 337.8h0.7M411.9 338.5h0.7M416.1 338.5h0.7M418.9 338.5h0.7M420.3 338.5h0.7M422.4 338.5h1.4M415.4 339.2h1.4M419.6 339.2h1.4M421.7 339.2h0.7M423.8 339.2h1.4M414.0 339.9h1.4M416.1 339.9h1.4M418.9 339.9h0.7M421.7 339.9h0.7M423.1 339.9h0.7M414.7 340.6h3.5M421.7 340.6h1.4M412.6 341.2h2.8M416.1 341.2h1.4M418.2 341.2h0.7M419.6 341.2h0.7M409.8 342.0h0.7M411.2 342.0h0.7M412.6 342.0h1.4M414.7 342.0h1.4M416.8 342.0h0.7M418.9 342.0h0.7M421.0 342.0h0.7M409.1 342.7h2.8M412.6 342.7h0.7M414.0 342.7h1.4M416.8 342.7h2.8M420.3 342.7h0.7M421.7 342.7h0.7M407.7 343.4h7.7M416.8 343.4h1.4M418.9 343.4h1.4M423.1 343.4h0.7M408.4 344.1h2.1M412.6 344.1h1.4M415.4 344.1h0.7M417.5 344.1h0.7M418.9 344.1h0.7M420.3 344.1h0.7M407.0 344.8h0.7M408.4 344.8h1.4M411.2 344.8h0.7M413.3 344.8h2.1M416.8 344.8h0.7M418.2 344.8h1.4M421.0 344.8h0.7M407.7 345.5h2.1M411.9 345.5h1.4M414.7 345.5h0.7M416.8 345.5h3.5M407.0 346.2h2.1M411.9 346.2h1.4M415.4 346.2h1.4M417.5 346.2h0.7M418.9 346.2h1.4M407.0 346.9h1.4M409.1 346.9h0.7M412.6 346.9h0.7M414.0 346.9h0.7M415.4 346.9h0.7M416.8 346.9h0.7M418.2 346.9h0.7M407.0 347.6h1.4M409.8 347.6h2.8M413.3 347.6h2.1M416.1 347.6h1.4M418.9 347.6h0.7M404.9 348.2h1.4M407.0 348.2h2.8M411.2 348.2h1.4M416.1 348.2h0.7M405.6 349.0h2.8M410.5 349.0h0.7M414.0 349.0h1.4M406.3 349.7h2.1M409.1 349.7h0.7M410.5 349.7h0.7M411.9 349.7h0.7M414.7 349.7h0.7M405.6 350.4h0.7M407.0 350.4h2.8M411.9 350.4h2.1M405.6 351.1h0.7M407.7 351.1h2.8M411.2 351.1h1.4M409.8 351.8h0.7M411.2 351.8h0.7M405.6 352.5h1.4M407.7 352.5h4.2M404.9 353.2h1.4M410.5 353.2h0.7M406.3 354.6h0.7" stroke="#00dcec" stroke-width="0.90" fill="none"/>
<path d="M415.4 339.9h0.7M414.0 340.6h0.7M415.4 341.2h0.7M414.0 342.0h0.7M416.1 342.0h0.7M411.9 342.7h0.7M413.3 342.7h0.7M415.4 342.7h1.4M415.4 343.4h1.4M418.2 343.4h0.7M410.5 344.1h2.1M414.0 344.1h1.4M416.1 344.1h1.4M418.2 344.1h0.7M409.8 344.8h1.4M411.9 344.8h1.4M415.4 344.8h1.4M417.5 344.8h0.7M409.8 345.5h2.1M413.3 345.5h1.4M415.4 345.5h1.4M409.1 346.2h2.8M413.3 346.2h2.1M408.4 346.9h0.7M409.8 346.9h2.8M413.3 346.9h0.7M416.1 346.9h0.7M418.9 346.9h0.7M409.1 347.6h0.7M412.6 347.6h0.7M409.8 348.2h1.4M412.6 348.2h2.1M408.4 349.0h2.1M411.2 349.0h2.8M405.6 349.7h0.7M408.4 349.7h0.7M409.8 349.7h0.7M411.2 349.7h0.7M412.6 349.7h0.7M414.0 349.7h0.7M406.3 350.4h0.7M409.8 350.4h1.4M406.3 351.1h0.7M407.7 351.8h0.7" stroke="#10ea48" stroke-width="0.90" fill="none"/>
<text x="157.40" y="224.50" font-size="10.27" font-weight="bold" text-anchor="middle" fill="#0d0d0d">carbon nanomaterials</text>
<text x="157.40" y="236.70" font-size="10.30" font-weight="bold" text-anchor="middle" fill="#0d0d0d">(CNFs &amp; CNTs)</text>
<text x="103.10" y="333.00" font-size="10.22" font-weight="bold" text-anchor="middle" fill="#0d0d0d">docetaxel (DTX)</text>
<text x="206.40" y="333.00" font-size="10.32" font-weight="bold" text-anchor="middle" fill="#0d0d0d">mitomycin C (MMC)</text>
<text x="160.60" y="366.40" font-size="10.30" font-weight="bold" text-anchor="middle" fill="#0d0d0d">individual <tspan font-style="italic">vs</tspan> combinatory effect</text>
<text x="157.50" y="379.00" font-size="10.25" font-weight="bold" text-anchor="middle" fill="#0d0d0d">on cellular function</text>
<path d="M62.9 362.6H74" stroke="#0d0d0d" stroke-width="1.4" fill="none"/><path d="M78 362.6L72.6 360.2V365Z" fill="#0d0d0d"/>
<text x="378.00" y="154.70" font-size="10.00" font-weight="bold" text-anchor="middle" fill="#0d0d0d">apoptosis</text>
<text x="287.60" y="170.30" font-size="8.80" font-weight="bold" text-anchor="start" fill="#0d0d0d">CON</text>
<text x="395.60" y="170.30" font-size="8.90" font-weight="bold" text-anchor="start" fill="#0d0d0d">CNFs</text>
<text x="287.60" y="275.80" font-size="8.75" font-weight="bold" text-anchor="start" fill="#0d0d0d">MMC</text>
<text x="395.60" y="275.80" font-size="8.95" font-weight="bold" text-anchor="start" fill="#0d0d0d">MMC + CNFs</text>
<text x="378.00" y="383.30" font-size="7.55" font-weight="bold" text-anchor="middle" fill="#0d0d0d">annexin V</text>
<text transform="translate(267.1 260.9) rotate(-90)" font-size="7.6" font-weight="bold" text-anchor="middle" fill="#0d0d0d">PI</text>
<path d="M271.4 373.8V170M270.9 373.35H481" stroke="#0d0d0d" stroke-width="1.05" fill="none"/>
<path d="M271.4 165.2L269.3 170.6H273.5ZM485.6 373.35L480.2 371.2V375.5Z" fill="#0d0d0d"/>
</g>
</svg>
<div class="abs jt" style="left:134.8px;font-weight:bold;letter-spacing:0.7px">BEILSTEIN</div>
<div class="abs jt jl" style="left:254px;letter-spacing:1.32px">JOURNAL</div>
<div class="abs jt jl" style="left:364.5px;letter-spacing:0.9px">OF</div>
<div class="abs jt jl" style="left:402px;letter-spacing:0.79px">NANOTECHNOLOGY</div>
<div class="abs oa" style="top:69.9px;letter-spacing:-0.1px;right:89.2px">OPEN</div>
<div class="abs oa" style="top:82.7px;letter-spacing:-0.75px;right:89.7px">ACCESS</div>
<div class="abs oa" style="top:96.0px;letter-spacing:0.58px;color:#7a7a7a;right:88.8px">PLATINUM</div>
<div class="abs" id="divider"></div>
<div class="abs" id="title">Carbon nanomaterials sensitize prostate<br>cancer cells to docetaxel and mitomycin C<br>via induction of apoptosis and inhibition of<br>proliferation</div>
<div class="abs" id="auth">Kati Erdmann, Jessica Ringel, Silke Hampel et al.</div>
<div class="abs" id="cit"><i>Beilstein J. Nanotechnol.</i> <b>2017,</b> <i>8,</i> 1307–1317.</div>
<div class="abs" id="doi">doi:10.3762/bjnano.8.132</div>
<div class="abs" id="cc">CC BY 4.0</div>
</body></html>
